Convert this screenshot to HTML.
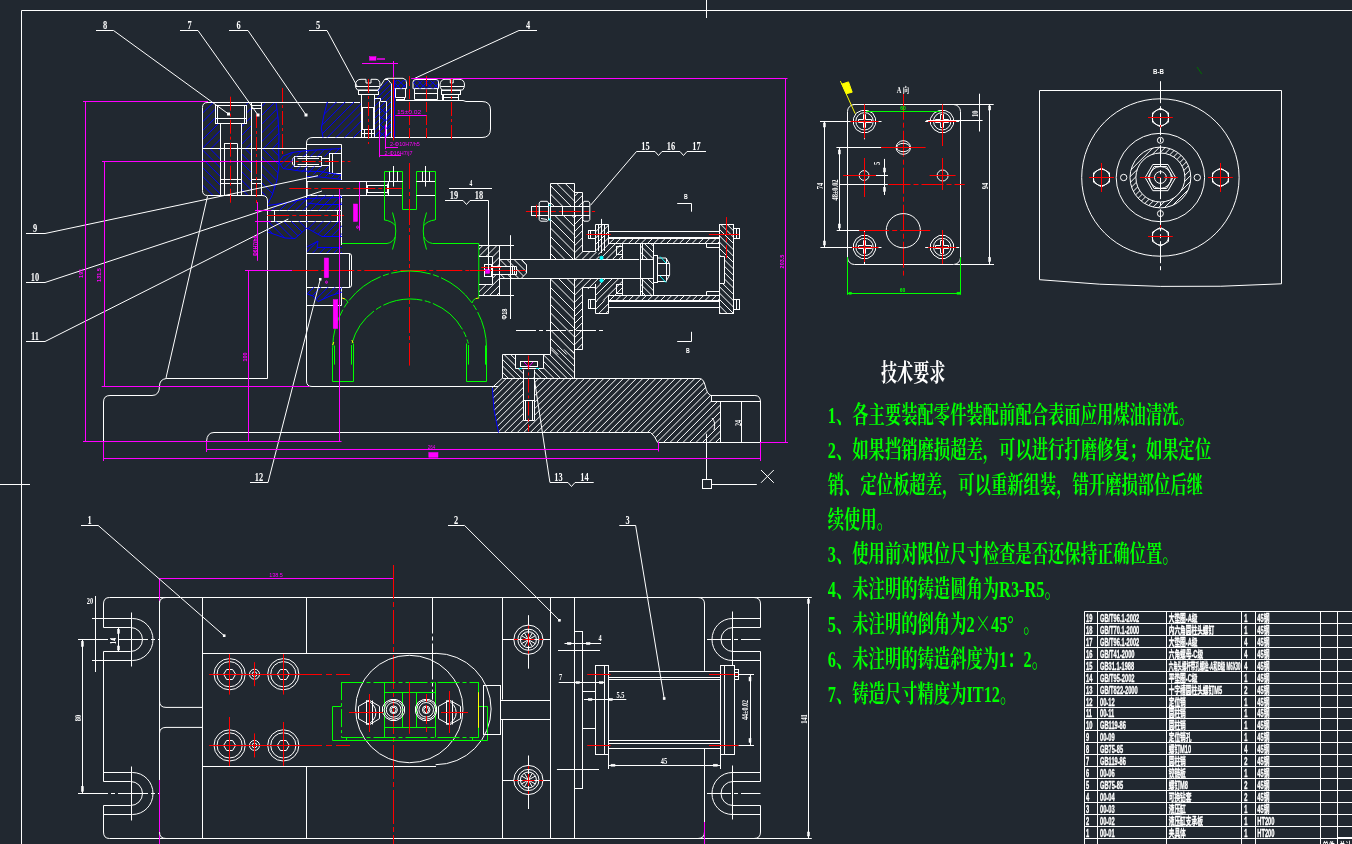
<!DOCTYPE html>
<html><head><meta charset="utf-8"><title>CAD</title>
<style>html,body{margin:0;padding:0;background:#212830;overflow:hidden}svg{display:block;will-change:transform}</style>
</head><body>
<svg width="1352" height="844" viewBox="0 0 1352 844">
<rect x="0" y="0" width="1352" height="844" fill="#212830"/>
<defs>
<clipPath id="h1"><path d="M202.3 107 L207 102.1 L276 102.1 L278 118 L279 135 L278.7 148.4 L202.3 148.4Z M215.3 102.1 L246.3 102.1 L246.3 123.1 L241.2 123.1 L241.2 148.4 L220.7 148.4 L220.7 123.1 L215.3 123.1Z M251.4 102.1 L261.7 102.1 L261.7 148.4 L251.4 148.4Z" clip-rule="evenodd"/></clipPath>
<clipPath id="h2"><path d="M202.3 148.4 L278.7 148.4 L279 165 L277 180 L272 195.6 L207 195.6 L202.3 191Z M220.7 148.4 L241.2 148.4 L241.2 195.6 L220.7 195.6Z M251.4 148.4 L261.7 148.4 L261.7 195.6 L251.4 195.6Z" clip-rule="evenodd"/></clipPath>
<clipPath id="h3"><path d="M279 162 L283 156 L292 152.5 L306.9 150.5 L341.5 148.5 L341.5 153 L329.9 153 L329.9 156.4 L294.9 156.4 L292.5 161.5 L294.9 166.6 L329.9 166.6 L329.9 173.5 L341.5 173.5 L341.5 178.5 L320 176 L300 172 L283 168.5Z" clip-rule="evenodd"/></clipPath>
<clipPath id="h4"><path d="M306.9 195.5 L341.9 195.5 L341.9 210.3 L267.7 210.3 L270 205 L285 203 L300 199Z" clip-rule="evenodd"/></clipPath>
<clipPath id="h5"><path d="M267.7 221.2 L306.9 221.2 L306.9 228 L295 238.5 L285 238 L267.7 232Z" clip-rule="evenodd"/></clipPath>
<clipPath id="h6"><path d="M306.9 221.2 L341.9 221.2 L341.9 236 L322 236 L306.9 228Z" clip-rule="evenodd"/></clipPath>
<clipPath id="h7"><path d="M306.9 245 L318 241 L317 247 L341.9 247 L341.9 253.5 L306.9 253.5Z" clip-rule="evenodd"/></clipPath>
<clipPath id="h8"><path d="M307.3 287.3 L342 287.3 L342 292 L330 296 L318 301.5 L313 296 L307.3 294Z" clip-rule="evenodd"/></clipPath>
<clipPath id="h9"><path d="M327.3 102.1 L361.3 102.1 L361.3 137.6 L323 137.6 L321.3 128 L324 115Z" clip-rule="evenodd"/></clipPath>
<clipPath id="h10"><path d="M374.9 94.6 L378 94.6 L378 90 L380.5 86 L384.5 79.5 L388 79.5 L391 83.5 L391.3 137.6 L374.9 137.6Z" clip-rule="evenodd"/></clipPath>
<clipPath id="h11"><path d="M394.6 80 L406 80 L406 88.6 L394.6 88.6Z" clip-rule="evenodd"/></clipPath>
<clipPath id="h12"><path d="M394.6 80 L406 80 L406 88.6 L394.6 88.6Z" clip-rule="evenodd"/></clipPath>
<clipPath id="h13"><path d="M413.5 80.5 L438 80.5 L438 88.6 L413.5 88.6Z" clip-rule="evenodd"/></clipPath>
<clipPath id="h14"><path d="M413.5 80.5 L438 80.5 L438 88.6 L413.5 88.6Z" clip-rule="evenodd"/></clipPath>
<clipPath id="h15"><path d="M550.3 183.3 L574.8 183.3 L574.8 206.6 L550.3 206.6Z" clip-rule="evenodd"/></clipPath>
<clipPath id="h16"><path d="M550.3 215.9 L574.8 215.9 L574.8 259.2 L550.3 259.2Z" clip-rule="evenodd"/></clipPath>
<clipPath id="h17"><path d="M550.3 278.4 L574.8 278.4 L574.8 354.4 L550.3 354.4Z" clip-rule="evenodd"/></clipPath>
<clipPath id="h18"><path d="M574.8 192.2 L582.9 192.2 L582.9 206.6 L574.8 206.6Z" clip-rule="evenodd"/></clipPath>
<clipPath id="h19"><path d="M574.8 215.9 L582.9 215.9 L582.9 251.9 L597 251.9 L601 259.2 L574.8 259.2Z" clip-rule="evenodd"/></clipPath>
<clipPath id="h20"><path d="M574.8 278.4 L606 278.4 L606 284 L595.1 284 L595.1 313.7 L608.9 313.7 L608.9 300.4 L595.1 300.4 L595.1 289 L582.6 289 L582.6 349.6 L574.8 349.6Z" clip-rule="evenodd"/></clipPath>
<clipPath id="h21"><path d="M479 245.3 L499.4 245.3 L499.4 295.5 L479 295.5 L479 284.7 L492.2 284.7 L492.2 256.7 L479 256.7Z M492.2 266.5 L499.4 266.5 L499.4 274.8 L492.2 274.8Z" clip-rule="evenodd"/></clipPath>
<clipPath id="h22"><path d="M499.4 259.4 L521.5 259.4 L526.8 264.8 L526.8 273 L521.5 278.1 L499.4 278.1Z M499.4 266.5 L516.4 266.5 L516.4 274.8 L499.4 274.8Z" clip-rule="evenodd"/></clipPath>
<clipPath id="h23"><path d="M595.1 224.4 L608.9 224.4 L608.9 243.3 L620 243.3 L622 247 L622 259.2 L601 259.2 L597 251.9 L595.1 251.9Z" clip-rule="evenodd"/></clipPath>
<clipPath id="h24"><path d="M606 278.4 L622 278.4 L622 290 L620 295.6 L608.9 295.6 L608.9 300.4 L595.1 300.4 L595.1 284 L606 284Z" clip-rule="evenodd"/></clipPath>
<clipPath id="h25"><path d="M608.9 238.9 L719.3 238.9 L719.3 243.3 L608.9 243.3Z" clip-rule="evenodd"/></clipPath>
<clipPath id="h26"><path d="M608.9 295.6 L719.3 295.6 L719.3 300.4 L608.9 300.4Z" clip-rule="evenodd"/></clipPath>
<clipPath id="h27"><path d="M719.3 224.4 L733.6 224.4 L733.6 313.7 L719.3 313.7 L719.3 283 L724.5 283 L724.5 256 L719.3 256Z" clip-rule="evenodd"/></clipPath>
<clipPath id="h28"><path d="M640 243.8 L653.6 243.8 L653.6 259.2 L640 259.2Z" clip-rule="evenodd"/></clipPath>
<clipPath id="h29"><path d="M640 278.4 L653.6 278.4 L653.6 295.2 L640 295.2Z" clip-rule="evenodd"/></clipPath>
<clipPath id="h30"><path d="M502.5 378 L699.2 378 L703 379.5 L705.5 386 L707.5 392.5 L711 395.8 L711 401.8 L720.5 401.8 L720.5 442 L657.7 442 L654.5 436 L650.6 432.6 L498.5 432.6 L494 410 L492.3 387.5 L498 383Z M523.4 378 L534 378 L534 420.7 L523.4 420.7Z" clip-rule="evenodd"/></clipPath>
<clipPath id="h31"><path d="M502.5 354.4 L515 354.4 L515 368.6 L543.5 368.6 L543.5 354.4 L550.4 354.4 L550.4 349.6 L574.8 349.6 L574.8 378 L502.5 378Z M523.4 368.6 L534 368.6 L534 378 L523.4 378Z" clip-rule="evenodd"/></clipPath>
<clipPath id="h32"><path d="M1190.8 177.5 L1190.63 180.68 L1190.14 183.82 L1189.31 186.89 L1188.17 189.86 L1186.73 192.7 L1184.99 195.37 L1182.99 197.84 L1180.74 200.09 L1178.27 202.09 L1175.6 203.83 L1172.76 205.27 L1169.79 206.41 L1166.72 207.24 L1163.58 207.73 L1160.4 207.9 L1157.22 207.73 L1154.08 207.24 L1151.01 206.41 L1148.04 205.27 L1145.2 203.83 L1142.53 202.09 L1140.06 200.09 L1137.81 197.84 L1135.81 195.37 L1134.07 192.7 L1132.63 189.86 L1131.49 186.89 L1130.66 183.82 L1130.17 180.68 L1130 177.5 L1130.17 174.32 L1130.66 171.18 L1131.49 168.11 L1132.63 165.14 L1134.07 162.3 L1135.81 159.63 L1137.81 157.16 L1140.06 154.91 L1142.53 152.91 L1145.2 151.17 L1148.04 149.73 L1151.01 148.59 L1154.08 147.76 L1157.22 147.27 L1160.4 147.1 L1163.58 147.27 L1166.72 147.76 L1169.79 148.59 L1172.76 149.73 L1175.6 151.17 L1178.27 152.91 L1180.74 154.91 L1182.99 157.16 L1184.99 159.63 L1186.73 162.3 L1188.17 165.14 L1189.31 168.11 L1190.14 171.18 L1190.63 174.32Z M1184.9 177.5 L1184.77 180.06 L1184.36 182.59 L1183.7 185.07 L1182.78 187.47 L1181.62 189.75 L1180.22 191.9 L1178.61 193.89 L1176.79 195.71 L1174.8 197.32 L1172.65 198.72 L1170.37 199.88 L1167.97 200.8 L1165.49 201.46 L1162.96 201.87 L1160.4 202 L1157.84 201.87 L1155.31 201.46 L1152.83 200.8 L1150.43 199.88 L1148.15 198.72 L1146 197.32 L1144.01 195.71 L1142.19 193.89 L1140.58 191.9 L1139.18 189.75 L1138.02 187.47 L1137.1 185.07 L1136.44 182.59 L1136.03 180.06 L1135.9 177.5 L1136.03 174.94 L1136.44 172.41 L1137.1 169.93 L1138.02 167.53 L1139.18 165.25 L1140.58 163.1 L1142.19 161.11 L1144.01 159.29 L1146 157.68 L1148.15 156.28 L1150.43 155.12 L1152.83 154.2 L1155.31 153.54 L1157.84 153.13 L1160.4 153 L1162.96 153.13 L1165.49 153.54 L1167.97 154.2 L1170.37 155.12 L1172.65 156.28 L1174.8 157.68 L1176.79 159.29 L1178.61 161.11 L1180.22 163.1 L1181.62 165.25 L1182.78 167.53 L1183.7 169.93 L1184.36 172.41 L1184.77 174.94Z" clip-rule="evenodd"/></clipPath>
</defs>
<g fill="none" stroke-linecap="butt">
<text transform="translate(881 381) scale(0.67 1)" font-size="24" fill="#ffffff" text-anchor="start" font-weight="bold" font-family='"Liberation Serif", "Noto Serif CJK SC", serif'>技术要求</text>
<text transform="translate(827.8 423.2) scale(0.68 1)" font-size="24" fill="#00ff00" text-anchor="start" font-weight="bold" font-family='"Liberation Serif", "Noto Serif CJK SC", serif'>1、各主要装配零件装配前配合表面应用煤油清洗。</text>
<text transform="translate(827.8 458) scale(0.68 1)" font-size="24" fill="#00ff00" text-anchor="start" font-weight="bold" font-family='"Liberation Serif", "Noto Serif CJK SC", serif'>2、如果挡销磨损超差，可以进行打磨修复；如果定位</text>
<text transform="translate(827.8 492.8) scale(0.68 1)" font-size="24" fill="#00ff00" text-anchor="start" font-weight="bold" font-family='"Liberation Serif", "Noto Serif CJK SC", serif'>销、定位板超差，可以重新组装，错开磨损部位后继</text>
<text transform="translate(827.8 527.6) scale(0.68 1)" font-size="24" fill="#00ff00" text-anchor="start" font-weight="bold" font-family='"Liberation Serif", "Noto Serif CJK SC", serif'>续使用。</text>
<text transform="translate(827.8 562.4) scale(0.68 1)" font-size="24" fill="#00ff00" text-anchor="start" font-weight="bold" font-family='"Liberation Serif", "Noto Serif CJK SC", serif'>3、使用前对限位尺寸检查是否还保持正确位置。</text>
<text transform="translate(827.8 597.2) scale(0.68 1)" font-size="24" fill="#00ff00" text-anchor="start" font-weight="bold" font-family='"Liberation Serif", "Noto Serif CJK SC", serif'>4、未注明的铸造圆角为R3-R5。</text>
<text transform="translate(827.8 632) scale(0.68 1)" font-size="24" fill="#00ff00" text-anchor="start" font-weight="bold" font-family='"Liberation Serif", "Noto Serif CJK SC", serif'>5、未注明的倒角为2<tspan font-family="Noto Serif CJK SC">×</tspan>45°<tspan dx="14">。</tspan></text>
<text transform="translate(827.8 666.8) scale(0.68 1)" font-size="24" fill="#00ff00" text-anchor="start" font-weight="bold" font-family='"Liberation Serif", "Noto Serif CJK SC", serif'>6、未注明的铸造斜度为1：2。</text>
<text transform="translate(827.8 701.6) scale(0.68 1)" font-size="24" fill="#00ff00" text-anchor="start" font-weight="bold" font-family='"Liberation Serif", "Noto Serif CJK SC", serif'>7、铸造尺寸精度为IT12。</text>
<line x1="1084.5" y1="611.4" x2="1084.5" y2="844" stroke="#ffffff" stroke-width="1"/>
<line x1="1097.5" y1="611.4" x2="1097.5" y2="844" stroke="#ffffff" stroke-width="1"/>
<line x1="1166.5" y1="611.4" x2="1166.5" y2="844" stroke="#ffffff" stroke-width="1"/>
<line x1="1241.5" y1="611.4" x2="1241.5" y2="844" stroke="#ffffff" stroke-width="1"/>
<line x1="1255.5" y1="611.4" x2="1255.5" y2="844" stroke="#ffffff" stroke-width="1"/>
<line x1="1320.5" y1="611.4" x2="1320.5" y2="844" stroke="#ffffff" stroke-width="1"/>
<line x1="1337.5" y1="611.4" x2="1337.5" y2="844" stroke="#ffffff" stroke-width="1"/>
<line x1="1084.4" y1="611.5" x2="1352" y2="611.5" stroke="#ffffff" stroke-width="1"/>
<line x1="1084.4" y1="623.5" x2="1352" y2="623.5" stroke="#ffffff" stroke-width="1"/>
<line x1="1084.4" y1="635.5" x2="1352" y2="635.5" stroke="#ffffff" stroke-width="1"/>
<line x1="1084.4" y1="647.5" x2="1352" y2="647.5" stroke="#ffffff" stroke-width="1"/>
<line x1="1084.4" y1="659.5" x2="1352" y2="659.5" stroke="#ffffff" stroke-width="1"/>
<line x1="1084.4" y1="671.5" x2="1352" y2="671.5" stroke="#ffffff" stroke-width="1"/>
<line x1="1084.4" y1="683.5" x2="1352" y2="683.5" stroke="#ffffff" stroke-width="1"/>
<line x1="1084.4" y1="695.5" x2="1352" y2="695.5" stroke="#ffffff" stroke-width="1"/>
<line x1="1084.4" y1="707.5" x2="1352" y2="707.5" stroke="#ffffff" stroke-width="1"/>
<line x1="1084.4" y1="718.5" x2="1352" y2="718.5" stroke="#ffffff" stroke-width="1"/>
<line x1="1084.4" y1="730.5" x2="1352" y2="730.5" stroke="#ffffff" stroke-width="1"/>
<line x1="1084.4" y1="742.5" x2="1352" y2="742.5" stroke="#ffffff" stroke-width="1"/>
<line x1="1084.4" y1="754.5" x2="1352" y2="754.5" stroke="#ffffff" stroke-width="1"/>
<line x1="1084.4" y1="766.5" x2="1352" y2="766.5" stroke="#ffffff" stroke-width="1"/>
<line x1="1084.4" y1="778.5" x2="1352" y2="778.5" stroke="#ffffff" stroke-width="1"/>
<line x1="1084.4" y1="790.5" x2="1352" y2="790.5" stroke="#ffffff" stroke-width="1"/>
<line x1="1084.4" y1="802.5" x2="1352" y2="802.5" stroke="#ffffff" stroke-width="1"/>
<line x1="1084.4" y1="814.5" x2="1352" y2="814.5" stroke="#ffffff" stroke-width="1"/>
<line x1="1084.4" y1="826.5" x2="1352" y2="826.5" stroke="#ffffff" stroke-width="1"/>
<line x1="1084.4" y1="838.5" x2="1352" y2="838.5" stroke="#ffffff" stroke-width="1"/>
<text transform="translate(1086 621.7) scale(0.57 1)" font-size="10" fill="#ffffff" text-anchor="start" font-weight="bold" font-family='"Liberation Sans", "Noto Sans CJK SC", sans-serif' stroke="#ffffff" stroke-width="0.4">19</text>
<text transform="translate(1100 621.7) scale(0.57 1)" font-size="10" fill="#ffffff" text-anchor="start" font-weight="bold" font-family='"Liberation Sans", "Noto Sans CJK SC", sans-serif' stroke="#ffffff" stroke-width="0.4">GB/T96.1-2002</text>
<text transform="translate(1168.7 621.7) scale(0.57 1)" font-size="10" fill="#ffffff" text-anchor="start" font-weight="bold" font-family='"Liberation Sans", "Noto Sans CJK SC", sans-serif' stroke="#ffffff" stroke-width="0.4">大垫圈-A级</text>
<text transform="translate(1244.2 621.7) scale(0.57 1)" font-size="10" fill="#ffffff" text-anchor="start" font-weight="bold" font-family='"Liberation Sans", "Noto Sans CJK SC", sans-serif' stroke="#ffffff" stroke-width="0.4">1</text>
<text transform="translate(1257.3 621.7) scale(0.57 1)" font-size="10" fill="#ffffff" text-anchor="start" font-weight="bold" font-family='"Liberation Sans", "Noto Sans CJK SC", sans-serif' stroke="#ffffff" stroke-width="0.4">45钢</text>
<text transform="translate(1086 633.7) scale(0.57 1)" font-size="10" fill="#ffffff" text-anchor="start" font-weight="bold" font-family='"Liberation Sans", "Noto Sans CJK SC", sans-serif' stroke="#ffffff" stroke-width="0.4">18</text>
<text transform="translate(1100 633.7) scale(0.57 1)" font-size="10" fill="#ffffff" text-anchor="start" font-weight="bold" font-family='"Liberation Sans", "Noto Sans CJK SC", sans-serif' stroke="#ffffff" stroke-width="0.4">GB/T70.1-2000</text>
<text transform="translate(1168.7 633.7) scale(0.57 1)" font-size="10" fill="#ffffff" text-anchor="start" font-weight="bold" font-family='"Liberation Sans", "Noto Sans CJK SC", sans-serif' stroke="#ffffff" stroke-width="0.4">内六角圆柱头螺钉</text>
<text transform="translate(1244.2 633.7) scale(0.57 1)" font-size="10" fill="#ffffff" text-anchor="start" font-weight="bold" font-family='"Liberation Sans", "Noto Sans CJK SC", sans-serif' stroke="#ffffff" stroke-width="0.4">1</text>
<text transform="translate(1257.3 633.7) scale(0.57 1)" font-size="10" fill="#ffffff" text-anchor="start" font-weight="bold" font-family='"Liberation Sans", "Noto Sans CJK SC", sans-serif' stroke="#ffffff" stroke-width="0.4">45钢</text>
<text transform="translate(1086 645.7) scale(0.57 1)" font-size="10" fill="#ffffff" text-anchor="start" font-weight="bold" font-family='"Liberation Sans", "Noto Sans CJK SC", sans-serif' stroke="#ffffff" stroke-width="0.4">17</text>
<text transform="translate(1100 645.7) scale(0.57 1)" font-size="10" fill="#ffffff" text-anchor="start" font-weight="bold" font-family='"Liberation Sans", "Noto Sans CJK SC", sans-serif' stroke="#ffffff" stroke-width="0.4">GB/T96.1-2002</text>
<text transform="translate(1168.7 645.7) scale(0.57 1)" font-size="10" fill="#ffffff" text-anchor="start" font-weight="bold" font-family='"Liberation Sans", "Noto Sans CJK SC", sans-serif' stroke="#ffffff" stroke-width="0.4">大垫圈-A级</text>
<text transform="translate(1244.2 645.7) scale(0.57 1)" font-size="10" fill="#ffffff" text-anchor="start" font-weight="bold" font-family='"Liberation Sans", "Noto Sans CJK SC", sans-serif' stroke="#ffffff" stroke-width="0.4">4</text>
<text transform="translate(1257.3 645.7) scale(0.57 1)" font-size="10" fill="#ffffff" text-anchor="start" font-weight="bold" font-family='"Liberation Sans", "Noto Sans CJK SC", sans-serif' stroke="#ffffff" stroke-width="0.4">45钢</text>
<text transform="translate(1086 657.7) scale(0.57 1)" font-size="10" fill="#ffffff" text-anchor="start" font-weight="bold" font-family='"Liberation Sans", "Noto Sans CJK SC", sans-serif' stroke="#ffffff" stroke-width="0.4">16</text>
<text transform="translate(1100 657.7) scale(0.57 1)" font-size="10" fill="#ffffff" text-anchor="start" font-weight="bold" font-family='"Liberation Sans", "Noto Sans CJK SC", sans-serif' stroke="#ffffff" stroke-width="0.4">GB/T41-2000</text>
<text transform="translate(1168.7 657.7) scale(0.57 1)" font-size="10" fill="#ffffff" text-anchor="start" font-weight="bold" font-family='"Liberation Sans", "Noto Sans CJK SC", sans-serif' stroke="#ffffff" stroke-width="0.4">六角螺母-C级</text>
<text transform="translate(1244.2 657.7) scale(0.57 1)" font-size="10" fill="#ffffff" text-anchor="start" font-weight="bold" font-family='"Liberation Sans", "Noto Sans CJK SC", sans-serif' stroke="#ffffff" stroke-width="0.4">4</text>
<text transform="translate(1257.3 657.7) scale(0.57 1)" font-size="10" fill="#ffffff" text-anchor="start" font-weight="bold" font-family='"Liberation Sans", "Noto Sans CJK SC", sans-serif' stroke="#ffffff" stroke-width="0.4">45钢</text>
<text transform="translate(1086 669.7) scale(0.57 1)" font-size="10" fill="#ffffff" text-anchor="start" font-weight="bold" font-family='"Liberation Sans", "Noto Sans CJK SC", sans-serif' stroke="#ffffff" stroke-width="0.4">15</text>
<text transform="translate(1100 669.7) scale(0.57 1)" font-size="10" fill="#ffffff" text-anchor="start" font-weight="bold" font-family='"Liberation Sans", "Noto Sans CJK SC", sans-serif' stroke="#ffffff" stroke-width="0.4">GB31.1-1988</text>
<text transform="translate(1168.7 669.7) scale(0.57 1)" font-size="10" fill="#ffffff" text-anchor="start" font-weight="bold" font-family='"Liberation Sans", "Noto Sans CJK SC", sans-serif' stroke="#ffffff" stroke-width="0.4" textLength="126" lengthAdjust="spacingAndGlyphs">六角头螺杆带孔螺栓-A和B级 M6X30</text>
<text transform="translate(1244.2 669.7) scale(0.57 1)" font-size="10" fill="#ffffff" text-anchor="start" font-weight="bold" font-family='"Liberation Sans", "Noto Sans CJK SC", sans-serif' stroke="#ffffff" stroke-width="0.4">4</text>
<text transform="translate(1257.3 669.7) scale(0.57 1)" font-size="10" fill="#ffffff" text-anchor="start" font-weight="bold" font-family='"Liberation Sans", "Noto Sans CJK SC", sans-serif' stroke="#ffffff" stroke-width="0.4">45钢</text>
<text transform="translate(1086 681.7) scale(0.57 1)" font-size="10" fill="#ffffff" text-anchor="start" font-weight="bold" font-family='"Liberation Sans", "Noto Sans CJK SC", sans-serif' stroke="#ffffff" stroke-width="0.4">14</text>
<text transform="translate(1100 681.7) scale(0.57 1)" font-size="10" fill="#ffffff" text-anchor="start" font-weight="bold" font-family='"Liberation Sans", "Noto Sans CJK SC", sans-serif' stroke="#ffffff" stroke-width="0.4">GB/T95-2002</text>
<text transform="translate(1168.7 681.7) scale(0.57 1)" font-size="10" fill="#ffffff" text-anchor="start" font-weight="bold" font-family='"Liberation Sans", "Noto Sans CJK SC", sans-serif' stroke="#ffffff" stroke-width="0.4">平垫圈-C级</text>
<text transform="translate(1244.2 681.7) scale(0.57 1)" font-size="10" fill="#ffffff" text-anchor="start" font-weight="bold" font-family='"Liberation Sans", "Noto Sans CJK SC", sans-serif' stroke="#ffffff" stroke-width="0.4">1</text>
<text transform="translate(1257.3 681.7) scale(0.57 1)" font-size="10" fill="#ffffff" text-anchor="start" font-weight="bold" font-family='"Liberation Sans", "Noto Sans CJK SC", sans-serif' stroke="#ffffff" stroke-width="0.4">45钢</text>
<text transform="translate(1086 693.7) scale(0.57 1)" font-size="10" fill="#ffffff" text-anchor="start" font-weight="bold" font-family='"Liberation Sans", "Noto Sans CJK SC", sans-serif' stroke="#ffffff" stroke-width="0.4">13</text>
<text transform="translate(1100 693.7) scale(0.57 1)" font-size="10" fill="#ffffff" text-anchor="start" font-weight="bold" font-family='"Liberation Sans", "Noto Sans CJK SC", sans-serif' stroke="#ffffff" stroke-width="0.4">GB/T822-2000</text>
<text transform="translate(1168.7 693.7) scale(0.57 1)" font-size="10" fill="#ffffff" text-anchor="start" font-weight="bold" font-family='"Liberation Sans", "Noto Sans CJK SC", sans-serif' stroke="#ffffff" stroke-width="0.4">十字槽圆柱头螺钉M5</text>
<text transform="translate(1244.2 693.7) scale(0.57 1)" font-size="10" fill="#ffffff" text-anchor="start" font-weight="bold" font-family='"Liberation Sans", "Noto Sans CJK SC", sans-serif' stroke="#ffffff" stroke-width="0.4">2</text>
<text transform="translate(1257.3 693.7) scale(0.57 1)" font-size="10" fill="#ffffff" text-anchor="start" font-weight="bold" font-family='"Liberation Sans", "Noto Sans CJK SC", sans-serif' stroke="#ffffff" stroke-width="0.4">45钢</text>
<text transform="translate(1086 705.7) scale(0.57 1)" font-size="10" fill="#ffffff" text-anchor="start" font-weight="bold" font-family='"Liberation Sans", "Noto Sans CJK SC", sans-serif' stroke="#ffffff" stroke-width="0.4">12</text>
<text transform="translate(1100 705.7) scale(0.57 1)" font-size="10" fill="#ffffff" text-anchor="start" font-weight="bold" font-family='"Liberation Sans", "Noto Sans CJK SC", sans-serif' stroke="#ffffff" stroke-width="0.4">00-12</text>
<text transform="translate(1168.7 705.7) scale(0.57 1)" font-size="10" fill="#ffffff" text-anchor="start" font-weight="bold" font-family='"Liberation Sans", "Noto Sans CJK SC", sans-serif' stroke="#ffffff" stroke-width="0.4">定位销</text>
<text transform="translate(1244.2 705.7) scale(0.57 1)" font-size="10" fill="#ffffff" text-anchor="start" font-weight="bold" font-family='"Liberation Sans", "Noto Sans CJK SC", sans-serif' stroke="#ffffff" stroke-width="0.4">1</text>
<text transform="translate(1257.3 705.7) scale(0.57 1)" font-size="10" fill="#ffffff" text-anchor="start" font-weight="bold" font-family='"Liberation Sans", "Noto Sans CJK SC", sans-serif' stroke="#ffffff" stroke-width="0.4">45钢</text>
<text transform="translate(1086 717.2) scale(0.57 1)" font-size="10" fill="#ffffff" text-anchor="start" font-weight="bold" font-family='"Liberation Sans", "Noto Sans CJK SC", sans-serif' stroke="#ffffff" stroke-width="0.4">11</text>
<text transform="translate(1100 717.2) scale(0.57 1)" font-size="10" fill="#ffffff" text-anchor="start" font-weight="bold" font-family='"Liberation Sans", "Noto Sans CJK SC", sans-serif' stroke="#ffffff" stroke-width="0.4">00-11</text>
<text transform="translate(1168.7 717.2) scale(0.57 1)" font-size="10" fill="#ffffff" text-anchor="start" font-weight="bold" font-family='"Liberation Sans", "Noto Sans CJK SC", sans-serif' stroke="#ffffff" stroke-width="0.4">圆柱销</text>
<text transform="translate(1244.2 717.2) scale(0.57 1)" font-size="10" fill="#ffffff" text-anchor="start" font-weight="bold" font-family='"Liberation Sans", "Noto Sans CJK SC", sans-serif' stroke="#ffffff" stroke-width="0.4">1</text>
<text transform="translate(1257.3 717.2) scale(0.57 1)" font-size="10" fill="#ffffff" text-anchor="start" font-weight="bold" font-family='"Liberation Sans", "Noto Sans CJK SC", sans-serif' stroke="#ffffff" stroke-width="0.4">45钢</text>
<text transform="translate(1086 728.7) scale(0.57 1)" font-size="10" fill="#ffffff" text-anchor="start" font-weight="bold" font-family='"Liberation Sans", "Noto Sans CJK SC", sans-serif' stroke="#ffffff" stroke-width="0.4">10</text>
<text transform="translate(1100 728.7) scale(0.57 1)" font-size="10" fill="#ffffff" text-anchor="start" font-weight="bold" font-family='"Liberation Sans", "Noto Sans CJK SC", sans-serif' stroke="#ffffff" stroke-width="0.4">GB119-86</text>
<text transform="translate(1168.7 728.7) scale(0.57 1)" font-size="10" fill="#ffffff" text-anchor="start" font-weight="bold" font-family='"Liberation Sans", "Noto Sans CJK SC", sans-serif' stroke="#ffffff" stroke-width="0.4">圆柱销</text>
<text transform="translate(1244.2 728.7) scale(0.57 1)" font-size="10" fill="#ffffff" text-anchor="start" font-weight="bold" font-family='"Liberation Sans", "Noto Sans CJK SC", sans-serif' stroke="#ffffff" stroke-width="0.4">1</text>
<text transform="translate(1257.3 728.7) scale(0.57 1)" font-size="10" fill="#ffffff" text-anchor="start" font-weight="bold" font-family='"Liberation Sans", "Noto Sans CJK SC", sans-serif' stroke="#ffffff" stroke-width="0.4">45钢</text>
<text transform="translate(1086 740.7) scale(0.57 1)" font-size="10" fill="#ffffff" text-anchor="start" font-weight="bold" font-family='"Liberation Sans", "Noto Sans CJK SC", sans-serif' stroke="#ffffff" stroke-width="0.4">9</text>
<text transform="translate(1100 740.7) scale(0.57 1)" font-size="10" fill="#ffffff" text-anchor="start" font-weight="bold" font-family='"Liberation Sans", "Noto Sans CJK SC", sans-serif' stroke="#ffffff" stroke-width="0.4">00-09</text>
<text transform="translate(1168.7 740.7) scale(0.57 1)" font-size="10" fill="#ffffff" text-anchor="start" font-weight="bold" font-family='"Liberation Sans", "Noto Sans CJK SC", sans-serif' stroke="#ffffff" stroke-width="0.4">定位销孔</text>
<text transform="translate(1244.2 740.7) scale(0.57 1)" font-size="10" fill="#ffffff" text-anchor="start" font-weight="bold" font-family='"Liberation Sans", "Noto Sans CJK SC", sans-serif' stroke="#ffffff" stroke-width="0.4">1</text>
<text transform="translate(1257.3 740.7) scale(0.57 1)" font-size="10" fill="#ffffff" text-anchor="start" font-weight="bold" font-family='"Liberation Sans", "Noto Sans CJK SC", sans-serif' stroke="#ffffff" stroke-width="0.4">45钢</text>
<text transform="translate(1086 752.7) scale(0.57 1)" font-size="10" fill="#ffffff" text-anchor="start" font-weight="bold" font-family='"Liberation Sans", "Noto Sans CJK SC", sans-serif' stroke="#ffffff" stroke-width="0.4">8</text>
<text transform="translate(1100 752.7) scale(0.57 1)" font-size="10" fill="#ffffff" text-anchor="start" font-weight="bold" font-family='"Liberation Sans", "Noto Sans CJK SC", sans-serif' stroke="#ffffff" stroke-width="0.4">GB75-85</text>
<text transform="translate(1168.7 752.7) scale(0.57 1)" font-size="10" fill="#ffffff" text-anchor="start" font-weight="bold" font-family='"Liberation Sans", "Noto Sans CJK SC", sans-serif' stroke="#ffffff" stroke-width="0.4">螺钉M10</text>
<text transform="translate(1244.2 752.7) scale(0.57 1)" font-size="10" fill="#ffffff" text-anchor="start" font-weight="bold" font-family='"Liberation Sans", "Noto Sans CJK SC", sans-serif' stroke="#ffffff" stroke-width="0.4">4</text>
<text transform="translate(1257.3 752.7) scale(0.57 1)" font-size="10" fill="#ffffff" text-anchor="start" font-weight="bold" font-family='"Liberation Sans", "Noto Sans CJK SC", sans-serif' stroke="#ffffff" stroke-width="0.4">45钢</text>
<text transform="translate(1086 764.7) scale(0.57 1)" font-size="10" fill="#ffffff" text-anchor="start" font-weight="bold" font-family='"Liberation Sans", "Noto Sans CJK SC", sans-serif' stroke="#ffffff" stroke-width="0.4">7</text>
<text transform="translate(1100 764.7) scale(0.57 1)" font-size="10" fill="#ffffff" text-anchor="start" font-weight="bold" font-family='"Liberation Sans", "Noto Sans CJK SC", sans-serif' stroke="#ffffff" stroke-width="0.4">GB119-86</text>
<text transform="translate(1168.7 764.7) scale(0.57 1)" font-size="10" fill="#ffffff" text-anchor="start" font-weight="bold" font-family='"Liberation Sans", "Noto Sans CJK SC", sans-serif' stroke="#ffffff" stroke-width="0.4">圆柱销</text>
<text transform="translate(1244.2 764.7) scale(0.57 1)" font-size="10" fill="#ffffff" text-anchor="start" font-weight="bold" font-family='"Liberation Sans", "Noto Sans CJK SC", sans-serif' stroke="#ffffff" stroke-width="0.4">2</text>
<text transform="translate(1257.3 764.7) scale(0.57 1)" font-size="10" fill="#ffffff" text-anchor="start" font-weight="bold" font-family='"Liberation Sans", "Noto Sans CJK SC", sans-serif' stroke="#ffffff" stroke-width="0.4">45钢</text>
<text transform="translate(1086 776.7) scale(0.57 1)" font-size="10" fill="#ffffff" text-anchor="start" font-weight="bold" font-family='"Liberation Sans", "Noto Sans CJK SC", sans-serif' stroke="#ffffff" stroke-width="0.4">6</text>
<text transform="translate(1100 776.7) scale(0.57 1)" font-size="10" fill="#ffffff" text-anchor="start" font-weight="bold" font-family='"Liberation Sans", "Noto Sans CJK SC", sans-serif' stroke="#ffffff" stroke-width="0.4">00-06</text>
<text transform="translate(1168.7 776.7) scale(0.57 1)" font-size="10" fill="#ffffff" text-anchor="start" font-weight="bold" font-family='"Liberation Sans", "Noto Sans CJK SC", sans-serif' stroke="#ffffff" stroke-width="0.4">铰链板</text>
<text transform="translate(1244.2 776.7) scale(0.57 1)" font-size="10" fill="#ffffff" text-anchor="start" font-weight="bold" font-family='"Liberation Sans", "Noto Sans CJK SC", sans-serif' stroke="#ffffff" stroke-width="0.4">1</text>
<text transform="translate(1257.3 776.7) scale(0.57 1)" font-size="10" fill="#ffffff" text-anchor="start" font-weight="bold" font-family='"Liberation Sans", "Noto Sans CJK SC", sans-serif' stroke="#ffffff" stroke-width="0.4">45钢</text>
<text transform="translate(1086 788.7) scale(0.57 1)" font-size="10" fill="#ffffff" text-anchor="start" font-weight="bold" font-family='"Liberation Sans", "Noto Sans CJK SC", sans-serif' stroke="#ffffff" stroke-width="0.4">5</text>
<text transform="translate(1100 788.7) scale(0.57 1)" font-size="10" fill="#ffffff" text-anchor="start" font-weight="bold" font-family='"Liberation Sans", "Noto Sans CJK SC", sans-serif' stroke="#ffffff" stroke-width="0.4">GB75-85</text>
<text transform="translate(1168.7 788.7) scale(0.57 1)" font-size="10" fill="#ffffff" text-anchor="start" font-weight="bold" font-family='"Liberation Sans", "Noto Sans CJK SC", sans-serif' stroke="#ffffff" stroke-width="0.4">螺钉M8</text>
<text transform="translate(1244.2 788.7) scale(0.57 1)" font-size="10" fill="#ffffff" text-anchor="start" font-weight="bold" font-family='"Liberation Sans", "Noto Sans CJK SC", sans-serif' stroke="#ffffff" stroke-width="0.4">2</text>
<text transform="translate(1257.3 788.7) scale(0.57 1)" font-size="10" fill="#ffffff" text-anchor="start" font-weight="bold" font-family='"Liberation Sans", "Noto Sans CJK SC", sans-serif' stroke="#ffffff" stroke-width="0.4">45钢</text>
<text transform="translate(1086 800.7) scale(0.57 1)" font-size="10" fill="#ffffff" text-anchor="start" font-weight="bold" font-family='"Liberation Sans", "Noto Sans CJK SC", sans-serif' stroke="#ffffff" stroke-width="0.4">4</text>
<text transform="translate(1100 800.7) scale(0.57 1)" font-size="10" fill="#ffffff" text-anchor="start" font-weight="bold" font-family='"Liberation Sans", "Noto Sans CJK SC", sans-serif' stroke="#ffffff" stroke-width="0.4">00-04</text>
<text transform="translate(1168.7 800.7) scale(0.57 1)" font-size="10" fill="#ffffff" text-anchor="start" font-weight="bold" font-family='"Liberation Sans", "Noto Sans CJK SC", sans-serif' stroke="#ffffff" stroke-width="0.4">可换钻套</text>
<text transform="translate(1244.2 800.7) scale(0.57 1)" font-size="10" fill="#ffffff" text-anchor="start" font-weight="bold" font-family='"Liberation Sans", "Noto Sans CJK SC", sans-serif' stroke="#ffffff" stroke-width="0.4">2</text>
<text transform="translate(1257.3 800.7) scale(0.57 1)" font-size="10" fill="#ffffff" text-anchor="start" font-weight="bold" font-family='"Liberation Sans", "Noto Sans CJK SC", sans-serif' stroke="#ffffff" stroke-width="0.4">45钢</text>
<text transform="translate(1086 812.7) scale(0.57 1)" font-size="10" fill="#ffffff" text-anchor="start" font-weight="bold" font-family='"Liberation Sans", "Noto Sans CJK SC", sans-serif' stroke="#ffffff" stroke-width="0.4">3</text>
<text transform="translate(1100 812.7) scale(0.57 1)" font-size="10" fill="#ffffff" text-anchor="start" font-weight="bold" font-family='"Liberation Sans", "Noto Sans CJK SC", sans-serif' stroke="#ffffff" stroke-width="0.4">00-03</text>
<text transform="translate(1168.7 812.7) scale(0.57 1)" font-size="10" fill="#ffffff" text-anchor="start" font-weight="bold" font-family='"Liberation Sans", "Noto Sans CJK SC", sans-serif' stroke="#ffffff" stroke-width="0.4">液压缸</text>
<text transform="translate(1244.2 812.7) scale(0.57 1)" font-size="10" fill="#ffffff" text-anchor="start" font-weight="bold" font-family='"Liberation Sans", "Noto Sans CJK SC", sans-serif' stroke="#ffffff" stroke-width="0.4">1</text>
<text transform="translate(1257.3 812.7) scale(0.57 1)" font-size="10" fill="#ffffff" text-anchor="start" font-weight="bold" font-family='"Liberation Sans", "Noto Sans CJK SC", sans-serif' stroke="#ffffff" stroke-width="0.4">45钢</text>
<text transform="translate(1086 824.7) scale(0.57 1)" font-size="10" fill="#ffffff" text-anchor="start" font-weight="bold" font-family='"Liberation Sans", "Noto Sans CJK SC", sans-serif' stroke="#ffffff" stroke-width="0.4">2</text>
<text transform="translate(1100 824.7) scale(0.57 1)" font-size="10" fill="#ffffff" text-anchor="start" font-weight="bold" font-family='"Liberation Sans", "Noto Sans CJK SC", sans-serif' stroke="#ffffff" stroke-width="0.4">00-02</text>
<text transform="translate(1168.7 824.7) scale(0.57 1)" font-size="10" fill="#ffffff" text-anchor="start" font-weight="bold" font-family='"Liberation Sans", "Noto Sans CJK SC", sans-serif' stroke="#ffffff" stroke-width="0.4">液压缸支承板</text>
<text transform="translate(1244.2 824.7) scale(0.57 1)" font-size="10" fill="#ffffff" text-anchor="start" font-weight="bold" font-family='"Liberation Sans", "Noto Sans CJK SC", sans-serif' stroke="#ffffff" stroke-width="0.4">1</text>
<text transform="translate(1257.3 824.7) scale(0.57 1)" font-size="10" fill="#ffffff" text-anchor="start" font-weight="bold" font-family='"Liberation Sans", "Noto Sans CJK SC", sans-serif' stroke="#ffffff" stroke-width="0.4">HT200</text>
<text transform="translate(1086 836.7) scale(0.57 1)" font-size="10" fill="#ffffff" text-anchor="start" font-weight="bold" font-family='"Liberation Sans", "Noto Sans CJK SC", sans-serif' stroke="#ffffff" stroke-width="0.4">1</text>
<text transform="translate(1100 836.7) scale(0.57 1)" font-size="10" fill="#ffffff" text-anchor="start" font-weight="bold" font-family='"Liberation Sans", "Noto Sans CJK SC", sans-serif' stroke="#ffffff" stroke-width="0.4">00-01</text>
<text transform="translate(1168.7 836.7) scale(0.57 1)" font-size="10" fill="#ffffff" text-anchor="start" font-weight="bold" font-family='"Liberation Sans", "Noto Sans CJK SC", sans-serif' stroke="#ffffff" stroke-width="0.4">夹具体</text>
<text transform="translate(1244.2 836.7) scale(0.57 1)" font-size="10" fill="#ffffff" text-anchor="start" font-weight="bold" font-family='"Liberation Sans", "Noto Sans CJK SC", sans-serif' stroke="#ffffff" stroke-width="0.4">1</text>
<text transform="translate(1257.3 836.7) scale(0.57 1)" font-size="10" fill="#ffffff" text-anchor="start" font-weight="bold" font-family='"Liberation Sans", "Noto Sans CJK SC", sans-serif' stroke="#ffffff" stroke-width="0.4">HT200</text>
<text transform="translate(1322.6 849.3) scale(0.68 1)" font-size="9" fill="#ffffff" text-anchor="start" font-weight="bold" font-family='"Liberation Sans", "Noto Sans CJK SC", sans-serif'>单件</text>
<text transform="translate(1339.3 849.3) scale(0.68 1)" font-size="9" fill="#ffffff" text-anchor="start" font-weight="bold" font-family='"Liberation Sans", "Noto Sans CJK SC", sans-serif'>总计</text>
<line x1="1338" y1="837.5" x2="1352" y2="837.5" stroke="#ffffff" stroke-width="1"/>
<path clip-path="url(#h1)" d="M173.67 124.45 L239.85 58.27 M178.05 128.83 L244.23 62.65 M182.44 133.22 L248.62 67.04 M186.82 137.6 L253 71.42 M191.2 141.98 L257.38 75.8 M195.59 146.37 L261.77 80.19 M199.97 150.75 L266.15 84.57 M204.36 155.14 L270.54 88.96 M208.74 159.52 L274.92 93.34 M213.13 163.9 L279.3 97.73 M217.51 168.29 L283.69 102.11 M221.89 172.67 L288.07 106.49 M226.28 177.06 L292.46 110.88 M230.66 181.44 L296.84 115.26 M235.05 185.82 L301.22 119.65 M239.43 190.21 L305.61 124.03 M243.81 194.59 L309.99 128.41" stroke="#0000ff" stroke-width="1" fill="none"/>
<path clip-path="url(#h2)" d="M243.21 102.92 L309.73 169.44 M238.83 107.31 L305.34 173.82 M234.45 111.69 L300.96 178.2 M230.06 116.08 L296.57 182.59 M225.68 120.46 L292.19 186.97 M221.29 124.85 L287.8 191.36 M216.91 129.23 L283.42 195.74 M212.53 133.61 L279.04 200.12 M208.14 138 L274.65 204.51 M203.76 142.38 L270.27 208.89 M199.37 146.77 L265.88 213.28 M194.99 151.15 L261.5 217.66 M190.61 155.53 L257.12 222.04 M186.22 159.92 L252.73 226.43 M181.84 164.3 L248.35 230.81 M177.45 168.69 L243.96 235.2 M173.07 173.07 L239.58 239.58" stroke="#0000ff" stroke-width="1" fill="none"/>
<path d="M207.5 102.5 Q202.5 102.5 202.5 107.5 L202.5 190.5 Q202.5 195.5 207.5 195.5 L262 195.5" stroke="#ffffff" stroke-width="1" fill="none"/>
<polyline points="276,102.1 278,118 279,135 278.7,150 279,165 277,180 272,195.6 268,203" stroke="#0000ff" stroke-width="1" fill="none"/>
<line x1="202.3" y1="148.5" x2="306.9" y2="148.5" stroke="#ffffff" stroke-width="1"/>
<line x1="207" y1="102.5" x2="360" y2="102.5" stroke="#ffffff" stroke-width="1"/>
<rect x="215.5" y="105.5" width="31" height="18" rx="0" stroke="#ffffff" stroke-width="1" fill="none"/>
<line x1="217.5" y1="105.2" x2="217.5" y2="123.1" stroke="#ffffff" stroke-width="1"/>
<line x1="244.5" y1="105.2" x2="244.5" y2="123.1" stroke="#ffffff" stroke-width="1"/>
<line x1="215.3" y1="118.5" x2="246.3" y2="118.5" stroke="#ffffff" stroke-width="1"/>
<line x1="220.5" y1="123.1" x2="220.5" y2="195.6" stroke="#ffffff" stroke-width="1"/>
<line x1="241.5" y1="123.1" x2="241.5" y2="195.6" stroke="#ffffff" stroke-width="1"/>
<line x1="224.5" y1="143.6" x2="224.5" y2="195" stroke="#ffffff" stroke-width="1"/>
<line x1="237.5" y1="143.6" x2="237.5" y2="195" stroke="#ffffff" stroke-width="1"/>
<line x1="224.1" y1="143.5" x2="237.4" y2="143.5" stroke="#ffffff" stroke-width="1"/>
<line x1="220.7" y1="179.5" x2="241.2" y2="179.5" stroke="#ffffff" stroke-width="1"/>
<line x1="220.7" y1="183.5" x2="241.2" y2="183.5" stroke="#ffffff" stroke-width="1"/>
<line x1="230.5" y1="96.7" x2="230.5" y2="205" stroke="#ff0000" stroke-width="1" stroke-dasharray="14 3 3 3"/>
<line x1="251.5" y1="102.1" x2="251.5" y2="195.6" stroke="#ffffff" stroke-width="1"/>
<line x1="261.5" y1="102.1" x2="261.5" y2="195.6" stroke="#ffffff" stroke-width="1"/>
<line x1="251.4" y1="105.5" x2="261.7" y2="105.5" stroke="#ffffff" stroke-width="1"/>
<line x1="251.4" y1="108.5" x2="261.7" y2="108.5" stroke="#ffffff" stroke-width="1"/>
<line x1="251.4" y1="179.5" x2="261.7" y2="179.5" stroke="#ffffff" stroke-width="1"/>
<line x1="251.4" y1="183.5" x2="261.7" y2="183.5" stroke="#ffffff" stroke-width="1"/>
<line x1="256.5" y1="114" x2="256.5" y2="205" stroke="#ff0000" stroke-width="1" stroke-dasharray="14 3 3 3"/>
<line x1="282.5" y1="88" x2="282.5" y2="155.5" stroke="#ff0000" stroke-width="1" stroke-dasharray="14 3 3 3"/>
<path d="M262 195.5 Q267.5 195.5 267.5 201 L267.5 378.5" stroke="#ffffff" stroke-width="1" fill="none"/>
<line x1="207.5" y1="196.3" x2="166.2" y2="377.1" stroke="#ffffff" stroke-width="1"/>
<path d="M166.2 377.1 L166.2 378.5 L267.5 378.5" stroke="#ffffff" stroke-width="1" fill="none"/>
<path d="M166.2 378.5 Q159.5 379.5 159.5 386 Q159.5 395.5 152 395.5 L110 395.5 Q103.5 395.5 103.5 402 L103.5 441.5 L193 441.5" stroke="#ffffff" stroke-width="1" fill="none"/>
<path d="M206.5 441.5 Q207 432.5 214 432.5 L499 432.5" stroke="#ffffff" stroke-width="1" fill="none"/>
<path d="M313 137.5 Q306.5 137.5 306.5 143 L306.5 381 Q306.5 386.5 312 386.5 L498 386.5" stroke="#ffffff" stroke-width="1" fill="none"/>
<line x1="313" y1="137.5" x2="482" y2="137.5" stroke="#ffffff" stroke-width="1"/>
<polyline points="306.9,144.5 341.5,144.5 341.5,179.4" stroke="#ffffff" stroke-width="1" fill="none"/>
<rect x="294.5" y="156.5" width="27" height="10" rx="0" stroke="#ffffff" stroke-width="1" fill="none"/>
<line x1="297.5" y1="158.5" x2="319" y2="158.5" stroke="#ffffff" stroke-width="1"/>
<line x1="297.5" y1="164.5" x2="319" y2="164.5" stroke="#ffffff" stroke-width="1"/>
<line x1="292.5" y1="159" x2="294.9" y2="156.4" stroke="#ffffff" stroke-width="1"/>
<line x1="292.5" y1="164" x2="294.9" y2="166.6" stroke="#ffffff" stroke-width="1"/>
<line x1="292.5" y1="159" x2="292.5" y2="164" stroke="#ffffff" stroke-width="1"/>
<rect x="329.5" y="153.5" width="12" height="20" rx="0" stroke="#ffffff" stroke-width="1" fill="none"/>
<line x1="332.5" y1="153" x2="332.5" y2="173.5" stroke="#ffffff" stroke-width="1"/>
<line x1="321.4" y1="158.5" x2="329.9" y2="158.5" stroke="#ffffff" stroke-width="1"/>
<line x1="321.4" y1="165.5" x2="329.9" y2="165.5" stroke="#ffffff" stroke-width="1"/>
<line x1="278.7" y1="161.5" x2="350.4" y2="161.5" stroke="#ff0000" stroke-width="1" stroke-dasharray="14 3 3 3"/>
<path clip-path="url(#h3)" d="M256.05 161.15 L307.9 109.3 M259.58 164.68 L311.43 112.83 M263.12 168.22 L314.97 116.37 M266.65 171.75 L318.5 119.9 M270.19 175.29 L322.04 123.44 M273.72 178.82 L325.57 126.97 M277.26 182.36 L329.11 130.51 M280.8 185.9 L332.65 134.05 M284.33 189.43 L336.18 137.58 M287.87 192.97 L339.72 141.12 M291.4 196.5 L343.25 144.65 M294.94 200.04 L346.79 148.19 M298.47 203.57 L350.32 151.72 M302.01 207.11 L353.86 155.26 M305.54 210.64 L357.39 158.79 M309.08 214.18 L360.93 162.33 M312.61 217.72 L364.47 165.86" stroke="#0000ff" stroke-width="1" fill="none"/>
<polyline points="279,162 283,156 292,152.5 306.9,150.5 341.5,148.5" stroke="#0000ff" stroke-width="1" fill="none"/>
<polyline points="279,162 283,168.5 300,171 320,171.5 341.5,175" stroke="#0000ff" stroke-width="1" fill="none"/>
<polyline points="306.9,176.5 320,177 341.5,179.4" stroke="#0000ff" stroke-width="1" fill="none"/>
<line x1="306.9" y1="181.5" x2="401.8" y2="181.5" stroke="#ffffff" stroke-width="1"/>
<line x1="306.9" y1="195.5" x2="401.8" y2="195.5" stroke="#ffffff" stroke-width="1"/>
<line x1="306.9" y1="181" x2="306.9" y2="196" stroke="#ffffff" stroke-width="1.6"/>
<rect x="366.5" y="181.5" width="22" height="14" rx="0" stroke="#ffffff" stroke-width="1" fill="none"/>
<rect x="367.5" y="185.5" width="20" height="7" rx="0" stroke="#ffffff" stroke-width="1" fill="none"/>
<line x1="387" y1="185" x2="388.5" y2="183" stroke="#ffffff" stroke-width="1"/>
<line x1="387" y1="192.3" x2="388.5" y2="194" stroke="#ffffff" stroke-width="1"/>
<line x1="289.3" y1="188.5" x2="401.8" y2="188.5" stroke="#ff0000" stroke-width="1" stroke-dasharray="22 3 4 3"/>
<line x1="267.7" y1="210.5" x2="341.9" y2="210.5" stroke="#ffffff" stroke-width="1"/>
<line x1="267.7" y1="221.5" x2="341.9" y2="221.5" stroke="#ffffff" stroke-width="1"/>
<rect x="274.5" y="210.5" width="63" height="11" rx="0" stroke="#ffffff" stroke-width="1" fill="none"/>
<line x1="267.3" y1="215.5" x2="344" y2="215.5" stroke="#ff0000" stroke-width="1" stroke-dasharray="22 3 4 3"/>
<line x1="341.5" y1="145.3" x2="341.5" y2="180" stroke="#ffffff" stroke-width="1"/>
<line x1="341.5" y1="196" x2="341.5" y2="245" stroke="#ffffff" stroke-width="1"/>
<path clip-path="url(#h4)" d="M248.35 202.78 L304.68 146.45 M252.24 206.67 L308.57 150.34 M256.13 210.56 L312.46 154.23 M260.02 214.45 L316.35 158.12 M263.91 218.34 L320.24 162.01 M267.8 222.23 L324.13 165.9 M271.69 226.12 L328.02 169.79 M275.58 230.01 L331.91 173.68 M279.47 233.89 L335.79 177.57 M283.35 237.78 L339.68 181.45 M287.24 241.67 L343.57 185.34 M291.13 245.56 L347.46 189.23 M295.02 249.45 L351.35 193.12 M298.91 253.34 L355.24 197.01 M302.8 257.23 L359.13 200.9 M306.69 261.12 L363.02 204.79" stroke="#0000ff" stroke-width="1" fill="none"/>
<polyline points="268,205.5 285,203 306.9,198.5 341.9,197.5" stroke="#0000ff" stroke-width="1" fill="none"/>
<polyline points="306.9,203 320,204.5 341.9,204.5" stroke="#0000ff" stroke-width="1" fill="none"/>
<path clip-path="url(#h5)" d="M288.68 195.34 L321.81 228.47 M284.79 199.23 L317.92 232.36 M280.9 203.12 L314.03 236.25 M277.01 207.01 L310.14 240.14 M273.12 210.9 L306.25 244.03 M269.24 214.79 L302.36 247.91 M265.35 218.68 L298.47 251.8 M261.46 222.57 L294.58 255.69 M257.57 226.46 L290.69 259.58 M253.68 230.34 L286.81 263.47" stroke="#0000ff" stroke-width="1" fill="none"/>
<path clip-path="url(#h6)" d="M293.62 227.52 L323.32 197.82 M297.51 231.41 L327.21 201.71 M301.4 235.3 L331.1 205.6 M305.29 239.19 L334.99 209.49 M309.18 243.07 L338.87 213.38 M313.06 246.96 L342.76 217.26 M316.95 250.85 L346.65 221.15 M320.84 254.74 L350.54 225.04 M324.73 258.63 L354.43 228.93" stroke="#0000ff" stroke-width="1" fill="none"/>
<polyline points="267.7,232 285,238 295,238.5 306.9,228 322,236.5 341.9,236.5" stroke="#0000ff" stroke-width="1" fill="none"/>
<path clip-path="url(#h7)" d="M292.72 244.68 L321.83 215.57 M296.26 248.22 L325.37 219.11 M299.79 251.75 L328.9 222.64 M303.33 255.29 L332.44 226.18 M306.86 258.82 L335.97 229.71 M310.4 262.36 L339.51 233.25 M313.93 265.89 L343.04 236.78 M317.47 269.43 L346.58 240.32 M321.01 272.96 L350.11 243.86 M324.54 276.5 L353.65 247.39" stroke="#0000ff" stroke-width="1" fill="none"/>
<polyline points="306.9,247 318,241 317,247.5 341.9,247.5" stroke="#0000ff" stroke-width="1" fill="none"/>
<path d="M306.5 253.5 L349 253.5 Q351.5 253.5 351.5 256 L351.5 285 Q351.5 287.5 349 287.5 L306.5 287.5" stroke="#ffffff" stroke-width="1" fill="none"/>
<line x1="349.5" y1="253.5" x2="349.5" y2="287.3" stroke="#ffffff" stroke-width="1"/>
<polyline points="306.5,287.5 306.5,305.5 341.5,305.5 341.5,287.5" stroke="#ffffff" stroke-width="1" fill="none"/>
<path clip-path="url(#h8)" d="M293.9 292.99 L323.24 263.65 M297.44 296.53 L326.78 267.19 M300.98 300.07 L330.32 270.73 M304.51 303.6 L333.85 274.26 M308.05 307.14 L337.39 277.8 M311.58 310.67 L340.92 281.33 M315.12 314.21 L344.46 284.87 M318.65 317.74 L347.99 288.4 M322.19 321.28 L351.53 291.94 M325.72 324.81 L355.06 295.47" stroke="#0000ff" stroke-width="1" fill="none"/>
<polyline points="307.3,294 313,296 318,301.5 330,296 342,292" stroke="#0000ff" stroke-width="1" fill="none"/>
<rect x="319.5" y="278.5" width="1.5" height="1.5" rx="0" stroke="#ffffff" stroke-width="1" fill="#ffffff"/>
<line x1="292.3" y1="270.5" x2="520" y2="270.5" stroke="#ff0000" stroke-width="1" stroke-dasharray="26 3 4 3"/>
<path d="M398 100.5 L463 100.5 L466 101.5 L482 101.5 Q490.5 101.5 490.5 110 L490.5 129 Q490.5 137.5 482 137.5" stroke="#ffffff" stroke-width="1" fill="none"/>
<path clip-path="url(#h9)" d="M296.45 115.65 L337.1 75 M300.84 120.03 L341.48 79.39 M305.22 124.42 L345.87 83.77 M309.61 128.8 L350.25 88.16 M313.99 133.18 L354.63 92.54 M318.37 137.57 L359.02 96.92 M322.76 141.95 L363.4 101.31 M327.14 146.34 L367.79 105.69 M331.53 150.72 L372.17 110.08 M335.91 155.11 L376.56 114.46 M340.29 159.49 L380.94 118.84 M344.68 163.87 L385.32 123.23" stroke="#0000ff" stroke-width="1" fill="none"/>
<polyline points="327.3,102.1 324,115 321.3,128 323,137.6" stroke="#0000ff" stroke-width="1" fill="none"/>
<path d="M357.5 90 Q355.3 88 355.3 85 Q356 79.3 361 79.3 L366 79.3 L366 83 L371 83 L371 79.3 L376 79.3 Q380 79.3 380 85 Q380 88 378 90 Z" stroke="#ffffff" stroke-width="1" fill="none"/>
<line x1="356" y1="86.5" x2="379.5" y2="86.5" stroke="#ffffff" stroke-width="1"/>
<rect x="358.5" y="90.5" width="20" height="4" rx="0" stroke="#ffffff" stroke-width="1" fill="none"/>
<line x1="361.5" y1="94.6" x2="361.5" y2="137.6" stroke="#ffffff" stroke-width="1"/>
<line x1="374.5" y1="94.6" x2="374.5" y2="137.6" stroke="#ffffff" stroke-width="1"/>
<rect x="362.5" y="107.5" width="11" height="22" rx="0" stroke="#ffffff" stroke-width="1" fill="none"/>
<line x1="364.5" y1="129.9" x2="364.5" y2="137.6" stroke="#ffffff" stroke-width="1"/>
<line x1="371.5" y1="129.9" x2="371.5" y2="137.6" stroke="#ffffff" stroke-width="1"/>
<line x1="362" y1="133.5" x2="374" y2="133.5" stroke="#ffffff" stroke-width="1"/>
<line x1="368.5" y1="79" x2="368.5" y2="144" stroke="#ff0000" stroke-width="1" stroke-dasharray="14 3 3 3"/>
<path clip-path="url(#h10)" d="M337.26 108.22 L382.77 62.71 M340.23 111.19 L385.74 65.68 M343.2 114.16 L388.71 68.65 M346.16 117.13 L391.68 71.61 M349.13 120.1 L394.65 74.58 M352.1 123.07 L397.62 77.55 M355.07 126.04 L400.59 80.52 M358.04 129.01 L403.56 83.49 M361.01 131.98 L406.53 86.46 M363.98 134.95 L409.5 89.43 M366.95 137.92 L412.47 92.4 M369.92 140.89 L415.44 95.37 M372.89 143.86 L418.41 98.34 M375.86 146.83 L421.38 101.31 M378.83 149.8 L424.35 104.28 M381.8 152.77 L427.32 107.25 M384.77 155.74 L430.29 110.22" stroke="#0000ff" stroke-width="1" fill="none"/>
<polyline points="380.5,86 384.5,79.5 388,79.5 391,83.5" stroke="#ffffff" stroke-width="1" fill="none"/>
<line x1="379.5" y1="101.3" x2="379.5" y2="137.6" stroke="#ffffff" stroke-width="1"/>
<line x1="386.5" y1="101.3" x2="386.5" y2="137.6" stroke="#ffffff" stroke-width="1"/>
<line x1="391.5" y1="83.5" x2="391.5" y2="137.6" stroke="#ffffff" stroke-width="1"/>
<line x1="374.9" y1="98.5" x2="380.5" y2="98.5" stroke="#ffffff" stroke-width="1"/>
<line x1="380.5" y1="98" x2="380.5" y2="101.3" stroke="#ffffff" stroke-width="1"/>
<line x1="380.5" y1="101.5" x2="386" y2="101.5" stroke="#ffffff" stroke-width="1"/>
<line x1="394.5" y1="78.6" x2="394.5" y2="137.6" stroke="#0000ff" stroke-width="1"/>
<line x1="393.5" y1="76.6" x2="393.5" y2="140.5" stroke="#ff0000" stroke-width="1"/>
<polyline points="379.5,108 385.5,113 391,108" stroke="#0000ff" stroke-width="1" fill="none"/>
<polyline points="379.5,116 385.5,121 391,116" stroke="#0000ff" stroke-width="1" fill="none"/>
<polyline points="379.5,124 385.5,129 391,124" stroke="#0000ff" stroke-width="1" fill="none"/>
<polyline points="379.5,132 385.5,137 391,132" stroke="#0000ff" stroke-width="1" fill="none"/>
<path d="M384.5 79.5 Q386 78.3 388 78.3 L403 78.3 Q406.6 79 406.6 83 L406.6 88.6 L394.6 88.6" stroke="#ffffff" stroke-width="1" fill="none"/>
<path clip-path="url(#h11)" d="M387 83.93 L399.93 71 M390.19 87.11 L403.11 74.19 M393.37 90.29 L406.29 77.37 M396.55 93.48 L409.48 80.55 M399.73 96.66 L412.66 83.73 M402.91 99.84 L415.84 86.91" stroke="#0000ff" stroke-width="1" fill="none"/>
<path clip-path="url(#h12)" d="M401.3 70.37 L414.23 83.3 M398.12 73.56 L411.04 86.48 M394.94 76.74 L407.86 89.66 M391.75 79.92 L404.68 92.85 M388.57 83.1 L401.5 96.03 M385.39 86.28 L398.32 99.21" stroke="#0000ff" stroke-width="1" fill="none"/>
<polyline points="395.5,88.6 395.5,97.5 405.5,97.5 405.5,88.6" stroke="#ffffff" stroke-width="1" fill="none"/>
<line x1="404.5" y1="97" x2="404.5" y2="100.5" stroke="#ffffff" stroke-width="1"/>
<line x1="396" y1="99.5" x2="404" y2="99.5" stroke="#ffffff" stroke-width="1"/>
<line x1="409.5" y1="76" x2="409.5" y2="140.5" stroke="#ff0000" stroke-width="1" stroke-dasharray="10 3"/>
<path d="M413 88.6 L413 82 Q413 79.5 416 79.5 L436 79.5 Q438.5 79.5 438.5 82 L438.5 88.6 Z" stroke="#ffffff" stroke-width="1" fill="none"/>
<path clip-path="url(#h13)" d="M401.89 81.77 L422.97 60.69 M405.08 84.95 L426.15 63.88 M408.26 88.13 L429.33 67.06 M411.44 91.31 L432.51 70.24 M414.62 94.5 L435.7 73.42 M417.8 97.68 L438.88 76.6 M420.99 100.86 L442.06 79.79 M424.17 104.04 L445.24 82.97 M427.35 107.22 L448.42 86.15" stroke="#0000ff" stroke-width="1" fill="none"/>
<path clip-path="url(#h14)" d="M425.99 63.24 L447.06 84.31 M422.8 66.42 L443.88 87.5 M419.62 69.6 L440.7 90.68 M416.44 72.79 L437.51 93.86 M413.26 75.97 L434.33 97.04 M410.08 79.15 L431.15 100.22 M406.89 82.33 L427.97 103.41 M403.71 85.51 L424.79 106.59" stroke="#0000ff" stroke-width="1" fill="none"/>
<polyline points="414.5,88.6 414.5,99.5 437.5,99.5 437.5,88.6" stroke="#ffffff" stroke-width="1" fill="none"/>
<line x1="414.6" y1="93.5" x2="437" y2="93.5" stroke="#ffffff" stroke-width="1"/>
<line x1="415.5" y1="99" x2="415.5" y2="100.5" stroke="#ffffff" stroke-width="1"/>
<line x1="436.5" y1="99" x2="436.5" y2="100.5" stroke="#ffffff" stroke-width="1"/>
<line x1="426.5" y1="76" x2="426.5" y2="140.5" stroke="#ff0000" stroke-width="1" stroke-dasharray="10 3"/>
<path d="M442 90 Q439.9 88 439.9 85 Q440.5 79.3 445 79.3 L450.3 79.3 L450.3 83 L453.2 83 L453.2 79.3 L459 79.3 Q464.5 79.3 464.5 85 Q464.5 88 462.5 90 Z" stroke="#ffffff" stroke-width="1" fill="none"/>
<line x1="440.5" y1="86.5" x2="464" y2="86.5" stroke="#ffffff" stroke-width="1"/>
<rect x="441.5" y="90.5" width="19" height="4" rx="0" stroke="#ffffff" stroke-width="1" fill="none"/>
<line x1="443.5" y1="94.6" x2="443.5" y2="100.5" stroke="#ffffff" stroke-width="1"/>
<line x1="458.5" y1="94.6" x2="458.5" y2="100.5" stroke="#ffffff" stroke-width="1"/>
<line x1="442.5" y1="94.6" x2="442.5" y2="100.5" stroke="#ffffff" stroke-width="1"/>
<line x1="441.9" y1="97.5" x2="458.5" y2="97.5" stroke="#ffffff" stroke-width="1"/>
<line x1="451.5" y1="79" x2="451.5" y2="140.5" stroke="#ff0000" stroke-width="1" stroke-dasharray="14 3 3 3"/>
<line x1="396" y1="100.5" x2="463" y2="100.5" stroke="#ffffff" stroke-width="1"/>
<polyline points="384.5,220 384.5,171.5 402.5,171.5 402.5,209.5 416.5,209.5 416.5,171.5 435.5,171.5 435.5,220" stroke="#00ff00" stroke-width="1" fill="none"/>
<line x1="389.5" y1="171.6" x2="389.5" y2="181.5" stroke="#ffffff" stroke-width="1"/>
<line x1="393.5" y1="166" x2="393.5" y2="186.6" stroke="#ffffff" stroke-width="1"/>
<line x1="397.5" y1="171.6" x2="397.5" y2="181.5" stroke="#ffffff" stroke-width="1"/>
<line x1="422.5" y1="171.6" x2="422.5" y2="181.5" stroke="#ffffff" stroke-width="1"/>
<line x1="425.5" y1="166" x2="425.5" y2="186.6" stroke="#ffffff" stroke-width="1"/>
<line x1="429.5" y1="171.6" x2="429.5" y2="181.5" stroke="#ffffff" stroke-width="1"/>
<line x1="384.2" y1="181.5" x2="402.8" y2="181.5" stroke="#ffffff" stroke-width="1"/>
<line x1="416.4" y1="181.5" x2="435" y2="181.5" stroke="#ffffff" stroke-width="1"/>
<line x1="416.4" y1="195.5" x2="435" y2="195.5" stroke="#ffffff" stroke-width="1"/>
<line x1="409.5" y1="163" x2="409.5" y2="365.6" stroke="#ff0000" stroke-width="1" stroke-dasharray="26 3 4 3"/>
<path d="M384.2 219.9 Q392 221 395.1 225.5" stroke="#00ff00" stroke-width="1" fill="none"/>
<path d="M392.5 212.5 Q399 231 392.5 249.5" stroke="#00ff00" stroke-width="1" fill="none"/>
<path d="M341.9 243.5 L387 243.5 Q393 242.5 395.2 237" stroke="#00ff00" stroke-width="1" fill="none"/>
<line x1="341.9" y1="243.5" x2="387" y2="243.5" stroke="#00ff00" stroke-width="1"/>
<path d="M435 219.9 Q427 221 423.9 225.5" stroke="#00ff00" stroke-width="1" fill="none"/>
<path d="M426.5 212.5 Q420 231 426.5 249.5" stroke="#00ff00" stroke-width="1" fill="none"/>
<path d="M424 237 Q426 242.5 432.7 243.5 L478.8 243.5 L478.8 298.3" stroke="#00ff00" stroke-width="1" fill="none"/>
<path d="M332.7 347.9 A76.9 76.9 0 0 1 486.5 347.9" stroke="#00ff00" stroke-width="1" fill="none" stroke-dasharray="40 2.5 6 2.5"/>
<path d="M351.9 343.5 A60.3 60.3 0 0 1 468.3 343.5" stroke="#00ff00" stroke-width="1" fill="none" stroke-dasharray="40 2.5 6 2.5"/>
<polyline points="332.5,347.9 332.5,381.5 353.5,381.5 353.5,343.5" stroke="#00ff00" stroke-width="1" fill="none"/>
<polyline points="486.5,347.9 486.5,381.5 466.5,381.5 466.5,343.5" stroke="#00ff00" stroke-width="1" fill="none"/>
<line x1="334.5" y1="345.5" x2="334.5" y2="364.6" stroke="#00ff00" stroke-width="1"/>
<line x1="351.5" y1="345" x2="351.5" y2="364.6" stroke="#00ff00" stroke-width="1"/>
<line x1="468.5" y1="345" x2="468.5" y2="364.6" stroke="#00ff00" stroke-width="1"/>
<line x1="485.5" y1="345.5" x2="485.5" y2="364.6" stroke="#00ff00" stroke-width="1"/>
<line x1="342" y1="298" x2="345" y2="299" stroke="#ffff00" stroke-width="1"/>
<line x1="475.5" y1="298.6" x2="478.8" y2="298" stroke="#ffff00" stroke-width="1"/>
<line x1="332.7" y1="345" x2="333.8" y2="342" stroke="#ffff00" stroke-width="1"/>
<line x1="353" y1="343" x2="351.9" y2="340" stroke="#ffff00" stroke-width="1"/>
<path d="M345 299 Q347.5 300.5 348 303" stroke="#00ff00" stroke-width="1" fill="none"/>
<path d="M475.5 298.6 Q472.5 300 472 303" stroke="#00ff00" stroke-width="1" fill="none"/>
<path clip-path="url(#h15)" d="M564.79 165.98 L591.52 192.71 M560.54 170.22 L587.28 196.96 M556.3 174.46 L583.04 201.2 M552.06 178.71 L578.79 205.44 M547.82 182.95 L574.55 209.68 M543.57 187.19 L570.31 213.93 M539.33 191.43 L566.07 218.17 M535.09 195.68 L561.82 222.41" stroke="#ffffff" stroke-width="1" fill="none"/>
<path clip-path="url(#h16)" d="M563.48 198.61 L601.49 236.62 M559.24 202.86 L597.24 240.86 M554.99 207.1 L593 245.11 M550.75 211.34 L588.76 249.35 M546.51 215.58 L584.52 253.59 M542.27 219.83 L580.27 257.83 M538.02 224.07 L576.03 262.08 M533.78 228.31 L571.79 266.32 M529.54 232.55 L567.55 270.56 M525.3 236.8 L563.3 274.8 M521.05 241.04 L559.06 279.05" stroke="#ffffff" stroke-width="1" fill="none"/>
<path clip-path="url(#h17)" d="M562.56 257.09 L621.86 316.39 M558.32 261.34 L617.61 320.63 M554.08 265.58 L613.37 324.87 M549.84 269.82 L609.13 329.11 M545.59 274.06 L604.89 333.36 M541.35 278.31 L600.64 337.6 M537.11 282.55 L596.4 341.84 M532.87 286.79 L592.16 346.08 M528.62 291.04 L587.91 350.33 M524.38 295.28 L583.67 354.57 M520.14 299.52 L579.43 358.81 M515.9 303.76 L575.19 363.05 M511.65 308.01 L570.94 367.3 M507.41 312.25 L566.7 371.54 M503.17 316.49 L562.46 375.78" stroke="#ffffff" stroke-width="1" fill="none"/>
<polyline points="550.5,259.2 550.5,183.5 574.5,183.5 574.5,259.2" stroke="#ffffff" stroke-width="1" fill="none"/>
<line x1="550.5" y1="278.4" x2="550.5" y2="354.4" stroke="#ffffff" stroke-width="1"/>
<line x1="574.5" y1="278.4" x2="574.5" y2="354.4" stroke="#ffffff" stroke-width="1"/>
<path clip-path="url(#h18)" d="M564.31 199.37 L578.82 184.86 M567.84 202.9 L582.35 188.39 M571.38 206.44 L585.89 191.93 M574.91 209.97 L589.42 195.46 M578.45 213.51 L592.96 199 M581.98 217.05 L596.5 202.53" stroke="#ffffff" stroke-width="1" fill="none"/>
<path clip-path="url(#h19)" d="M548.31 236.58 L586.93 197.96 M551.85 240.11 L590.46 201.5 M555.38 243.65 L594 205.03 M558.92 247.18 L597.53 208.57 M562.45 250.72 L601.07 212.1 M565.99 254.25 L604.6 215.64 M569.53 257.79 L608.14 219.18 M573.06 261.33 L611.68 222.71 M576.6 264.86 L615.21 226.25 M580.13 268.4 L618.75 229.78 M583.67 271.93 L622.28 233.32 M587.2 275.47 L625.82 236.85 M590.74 279 L629.35 240.39" stroke="#ffffff" stroke-width="1" fill="none"/>
<polyline points="574.8,192.5 582.5,192.5 582.5,251.5 595.1,251.5" stroke="#ffffff" stroke-width="1" fill="none"/>
<path clip-path="url(#h20)" d="M530.33 311.13 L588.98 252.48 M533.86 314.66 L592.51 256.01 M537.4 318.2 L596.05 259.55 M540.93 321.74 L599.59 263.08 M544.47 325.27 L603.12 266.62 M548.01 328.81 L606.66 270.16 M551.54 332.34 L610.19 273.69 M555.08 335.88 L613.73 277.23 M558.61 339.41 L617.26 280.76 M562.15 342.95 L620.8 284.3 M565.68 346.48 L624.33 287.83 M569.22 350.02 L627.87 291.37 M572.75 353.56 L631.41 294.9 M576.29 357.09 L634.94 298.44 M579.83 360.63 L638.48 301.98 M583.36 364.16 L642.01 305.51 M586.9 367.7 L645.55 309.05 M590.43 371.23 L649.08 312.58 M593.97 374.77 L652.62 316.12" stroke="#ffffff" stroke-width="1" fill="none"/>
<polyline points="582.6,349.5 574.8,349.5" stroke="#ffffff" stroke-width="1" fill="none"/>
<line x1="582.5" y1="287" x2="582.5" y2="349.6" stroke="#ffffff" stroke-width="1"/>
<polyline points="582.6,287.5 595.5,287.5 595.5,300" stroke="#ffffff" stroke-width="1" fill="none"/>
<line x1="525.9" y1="211.5" x2="595.1" y2="211.5" stroke="#ff0000" stroke-width="1" stroke-dasharray="22 3 5 3"/>
<rect x="531.5" y="206.5" width="8" height="9" rx="0" stroke="#ffffff" stroke-width="1" fill="none"/>
<line x1="536.5" y1="204.8" x2="536.5" y2="217.5" stroke="#ff0000" stroke-width="1"/>
<path d="M540.5 201.3 L547.3 201.3 L548.6 203 L548.6 219.5 L547.3 221.2 L540.5 221.2 L539.2 219.5 L539.2 203 Z" stroke="#ffffff" stroke-width="1" fill="none"/>
<line x1="539.2" y1="206.5" x2="548.6" y2="206.5" stroke="#ffffff" stroke-width="1"/>
<line x1="539.2" y1="215.5" x2="548.6" y2="215.5" stroke="#ffffff" stroke-width="1"/>
<line x1="541" y1="218.5" x2="547" y2="219.5" stroke="#ffffff" stroke-width="1"/>
<rect x="548.5" y="203.5" width="2" height="16" rx="0" stroke="#ffffff" stroke-width="1" fill="none"/>
<line x1="550.3" y1="206.5" x2="582.9" y2="206.5" stroke="#ffffff" stroke-width="1"/>
<line x1="550.3" y1="215.5" x2="582.9" y2="215.5" stroke="#ffffff" stroke-width="1"/>
<line x1="562.5" y1="206.6" x2="562.5" y2="215.9" stroke="#ffffff" stroke-width="1"/>
<path d="M584 201.3 L588.5 201.3 L589.8 203 L589.8 219.5 L588.5 221.2 L584 221.2 L582.9 219.5 L582.9 203 Z" stroke="#ffffff" stroke-width="1" fill="none"/>
<line x1="582.9" y1="206.5" x2="589.8" y2="206.5" stroke="#ffffff" stroke-width="1"/>
<line x1="582.9" y1="215.5" x2="589.8" y2="215.5" stroke="#ffffff" stroke-width="1"/>
<line x1="549.6" y1="204.5" x2="549.6" y2="206" stroke="#00ffff" stroke-width="1.5"/>
<line x1="549.6" y1="218.5" x2="549.6" y2="220.5" stroke="#00ffff" stroke-width="1.5"/>
<line x1="499.4" y1="259.5" x2="639.1" y2="259.5" stroke="#ffffff" stroke-width="1"/>
<line x1="510.5" y1="235.2" x2="510.5" y2="259.2" stroke="#ffffff" stroke-width="1"/>
<line x1="499.3" y1="245.5" x2="514" y2="245.5" stroke="#ffffff" stroke-width="1"/>
<path clip-path="url(#h21)" d="M445.92 268.26 L487.06 227.12 M449.45 271.8 L490.6 230.65 M452.99 275.33 L494.13 234.19 M456.52 278.87 L497.67 237.72 M460.06 282.4 L501.2 241.26 M463.59 285.94 L504.74 244.79 M467.13 289.47 L508.27 248.33 M470.67 293.01 L511.81 251.87 M474.2 296.55 L515.35 255.4 M477.74 300.08 L518.88 258.94 M481.27 303.62 L522.42 262.47 M484.81 307.15 L525.95 266.01 M488.34 310.69 L529.49 269.54 M491.88 314.22 L533.02 273.08" stroke="#ffffff" stroke-width="1" fill="none"/>
<polyline points="479,245.5 514,245.5" stroke="#ffffff" stroke-width="1" fill="none"/>
<polyline points="479,295.5 514,295.5" stroke="#ffffff" stroke-width="1" fill="none"/>
<line x1="499.5" y1="245.3" x2="499.5" y2="295.5" stroke="#ffffff" stroke-width="1"/>
<polyline points="479,256.5 492.5,256.5 492.5,284.5 479,284.5" stroke="#ffffff" stroke-width="1" fill="none"/>
<rect x="484.5" y="264.5" width="7" height="12" rx="0" stroke="#ffffff" stroke-width="1" fill="none"/>
<line x1="491.6" y1="266.5" x2="516.4" y2="266.5" stroke="#ffffff" stroke-width="1"/>
<line x1="491.6" y1="274.5" x2="516.4" y2="274.5" stroke="#ffffff" stroke-width="1"/>
<line x1="516.5" y1="266.5" x2="516.5" y2="274.8" stroke="#ffffff" stroke-width="1"/>
<line x1="512.5" y1="266.5" x2="512.5" y2="274.8" stroke="#ffffff" stroke-width="1"/>
<line x1="514.5" y1="266.5" x2="514.5" y2="274.8" stroke="#ffffff" stroke-width="1"/>
<path clip-path="url(#h22)" d="M515.67 239.9 L541.95 266.18 M512.13 243.43 L538.42 269.72 M508.6 246.97 L534.88 273.25 M505.06 250.5 L531.35 276.79 M501.53 254.04 L527.81 280.32 M497.99 257.57 L524.28 283.86 M494.45 261.11 L520.74 287.4 M490.92 264.65 L517.2 290.93 M487.38 268.18 L513.67 294.47 M483.85 271.72 L510.13 298" stroke="#ffffff" stroke-width="1" fill="none"/>
<polyline points="521.5,259.4 526.5,264.8 526.5,273 521.5,278.1" stroke="#ffffff" stroke-width="1" fill="none"/>
<line x1="481.2" y1="267.5" x2="501.1" y2="267.5" stroke="#ff0000" stroke-width="1"/>
<line x1="470" y1="270.5" x2="525.6" y2="270.5" stroke="#ff0000" stroke-width="1" stroke-dasharray="16 3 3 3"/>
<rect x="485.5" y="269.2" width="4.2" height="4.1" rx="0" stroke="#ff00ff" stroke-width="0.5" fill="#ff00ff"/>
<line x1="499.4" y1="278.5" x2="640" y2="278.5" stroke="#ffffff" stroke-width="1"/>
<line x1="510.5" y1="259.2" x2="510.5" y2="319" stroke="#ffffff" stroke-width="1"/>
<line x1="499.3" y1="295.5" x2="514" y2="295.5" stroke="#ffffff" stroke-width="1"/>
<text transform="translate(507 314) rotate(-90) scale(0.8 1)" font-size="7" fill="#ffffff" text-anchor="middle" font-weight="bold" font-family='"Liberation Sans", "Noto Sans CJK SC", sans-serif'>Φ18</text>
<line x1="516" y1="330.5" x2="605.6" y2="330.5" stroke="#ffffff" stroke-width="1" stroke-dasharray="20 3 4 3"/>
<path clip-path="url(#h23)" d="M573.7 240.88 L607.63 206.95 M576.89 244.07 L610.82 210.14 M580.07 247.25 L614 213.32 M583.25 250.43 L617.18 216.5 M586.43 253.61 L620.36 219.68 M589.61 256.79 L623.54 222.86 M592.8 259.98 L626.73 226.05 M595.98 263.16 L629.91 229.23 M599.16 266.34 L633.09 232.41 M602.34 269.52 L636.27 235.59 M605.52 272.7 L639.45 238.77 M608.71 275.89 L642.64 241.96" stroke="#ffffff" stroke-width="1" fill="none"/>
<polyline points="595.5,251.9 595.5,224.5 608.5,224.5 608.5,238.9" stroke="#ffffff" stroke-width="1" fill="none"/>
<polyline points="595.5,284 595.5,313.5 608.5,313.5 608.5,300.4" stroke="#ffffff" stroke-width="1" fill="none"/>
<path clip-path="url(#h24)" d="M578.62 286.87 L606.02 259.47 M581.81 290.06 L609.21 262.66 M584.99 293.24 L612.39 265.84 M588.17 296.42 L615.57 269.02 M591.35 299.6 L618.75 272.2 M594.53 302.78 L621.93 275.38 M597.72 305.97 L625.12 278.57 M600.9 309.15 L628.3 281.75 M604.08 312.33 L631.48 284.93 M607.26 315.51 L634.66 288.11 M610.44 318.69 L637.84 291.29" stroke="#ffffff" stroke-width="1" fill="none"/>
<rect x="616.5" y="246.5" width="6" height="8" rx="0" stroke="#ffffff" stroke-width="1" fill="none"/>
<rect x="616.5" y="284.5" width="6" height="9" rx="0" stroke="#ffffff" stroke-width="1" fill="none"/>
<line x1="622.5" y1="243.3" x2="622.5" y2="259.2" stroke="#ffffff" stroke-width="1"/>
<line x1="622.5" y1="278.4" x2="622.5" y2="295.6" stroke="#ffffff" stroke-width="1"/>
<path clip-path="url(#h25)" d="M581.5 239.45 L662.45 158.5 M584.68 242.63 L665.63 161.68 M587.86 245.82 L668.82 164.86 M591.04 249 L672 168.04 M594.23 252.18 L675.18 171.23 M597.41 255.36 L678.36 174.41 M600.59 258.54 L681.54 177.59 M603.77 261.73 L684.73 180.77 M606.95 264.91 L687.91 183.95 M610.14 268.09 L691.09 187.14 M613.32 271.27 L694.27 190.32 M616.5 274.45 L697.45 193.5 M619.68 277.64 L700.64 196.68 M622.86 280.82 L703.82 199.86 M626.05 284 L707 203.05 M629.23 287.18 L710.18 206.23 M632.41 290.36 L713.36 209.41 M635.59 293.55 L716.55 212.59 M638.77 296.73 L719.73 215.77 M641.96 299.91 L722.91 218.96 M645.14 303.09 L726.09 222.14 M648.32 306.27 L729.27 225.32 M651.5 309.46 L732.46 228.5 M654.68 312.64 L735.64 231.68 M657.87 315.82 L738.82 234.87 M661.05 319 L742 238.05 M664.23 322.18 L745.18 241.23" stroke="#ffffff" stroke-width="1" fill="none"/>
<rect x="608.5" y="238.5" width="111" height="5" rx="0" stroke="#ffffff" stroke-width="1" fill="none"/>
<path clip-path="url(#h26)" d="M581.68 296.55 L662.65 215.58 M584.86 299.73 L665.83 218.76 M588.04 302.91 L669.01 221.94 M591.23 306.09 L672.19 225.13 M594.41 309.27 L675.37 228.31 M597.59 312.46 L678.56 231.49 M600.77 315.64 L681.74 234.67 M603.95 318.82 L684.92 237.85 M607.14 322 L688.1 241.04 M610.32 325.18 L691.28 244.22 M613.5 328.37 L694.47 247.4 M616.68 331.55 L697.65 250.58 M619.86 334.73 L700.83 253.76 M623.05 337.91 L704.01 256.95 M626.23 341.09 L707.19 260.13 M629.41 344.28 L710.38 263.31 M632.59 347.46 L713.56 266.49 M635.77 350.64 L716.74 269.67 M638.96 353.82 L719.92 272.86 M642.14 357 L723.1 276.04 M645.32 360.19 L726.29 279.22 M648.5 363.37 L729.47 282.4 M651.68 366.55 L732.65 285.58 M654.87 369.73 L735.83 288.77 M658.05 372.91 L739.01 291.95 M661.23 376.1 L742.2 295.13 M664.41 379.28 L745.38 298.31" stroke="#ffffff" stroke-width="1" fill="none"/>
<rect x="608.5" y="295.5" width="111" height="5" rx="0" stroke="#ffffff" stroke-width="1" fill="none"/>
<line x1="608.9" y1="231.5" x2="719.3" y2="231.5" stroke="#ffffff" stroke-width="1"/>
<line x1="608.9" y1="237.5" x2="719.3" y2="237.5" stroke="#ffffff" stroke-width="1"/>
<line x1="608.9" y1="301.5" x2="719.3" y2="301.5" stroke="#ffffff" stroke-width="1"/>
<line x1="608.9" y1="307.5" x2="719.3" y2="307.5" stroke="#ffffff" stroke-width="1"/>
<path clip-path="url(#h27)" d="M728.47 200.26 L795.24 267.03 M725.28 203.44 L792.06 270.22 M722.1 206.62 L788.88 273.4 M718.92 209.8 L785.7 276.58 M715.74 212.98 L782.52 279.76 M712.56 216.17 L779.33 282.94 M709.37 219.35 L776.15 286.13 M706.19 222.53 L772.97 289.31 M703.01 225.71 L769.79 292.49 M699.83 228.89 L766.61 295.67 M696.65 232.08 L763.42 298.85 M693.46 235.26 L760.24 302.04 M690.28 238.44 L757.06 305.22 M687.1 241.62 L753.88 308.4 M683.92 244.8 L750.7 311.58 M680.74 247.99 L747.51 314.76 M677.55 251.17 L744.33 317.95 M674.37 254.35 L741.15 321.13 M671.19 257.53 L737.97 324.31 M668.01 260.71 L734.79 327.49 M664.83 263.9 L731.6 330.67 M661.64 267.08 L728.42 333.86 M658.46 270.26 L725.24 337.04" stroke="#ffffff" stroke-width="1" fill="none"/>
<rect x="719.5" y="224.5" width="14" height="89" rx="0" stroke="#ffffff" stroke-width="1" fill="none"/>
<polyline points="719.3,256.5 724.5,256.5 724.5,283.5 719.3,283.5" stroke="#ffffff" stroke-width="1" fill="none"/>
<polyline points="706.5,243.3 706.5,247.5 719.3,247.5" stroke="#ffffff" stroke-width="1" fill="none"/>
<polyline points="706.5,295.6 706.5,291.5 719.3,291.5" stroke="#ffffff" stroke-width="1" fill="none"/>
<rect x="588.5" y="230.5" width="7" height="8" rx="0" stroke="#ffffff" stroke-width="1" fill="none"/>
<line x1="590.5" y1="230" x2="590.5" y2="238.9" stroke="#ffffff" stroke-width="1"/>
<rect x="588.5" y="299.5" width="7" height="9" rx="0" stroke="#ffffff" stroke-width="1" fill="none"/>
<line x1="590.5" y1="299.6" x2="590.5" y2="308.5" stroke="#ffffff" stroke-width="1"/>
<rect x="733.5" y="228.5" width="6" height="10" rx="0" stroke="#ffffff" stroke-width="1" fill="none"/>
<line x1="736.5" y1="228.5" x2="736.5" y2="238.9" stroke="#ffffff" stroke-width="1"/>
<rect x="733.5" y="299.5" width="6" height="10" rx="0" stroke="#ffffff" stroke-width="1" fill="none"/>
<line x1="736.5" y1="299" x2="736.5" y2="309.3" stroke="#ffffff" stroke-width="1"/>
<line x1="598.5" y1="224.4" x2="598.5" y2="251" stroke="#ffffff" stroke-width="1"/>
<line x1="604.5" y1="224.4" x2="604.5" y2="251" stroke="#ffffff" stroke-width="1"/>
<line x1="601.5" y1="218.9" x2="601.5" y2="253" stroke="#ffffff" stroke-width="1"/>
<line x1="586.4" y1="234.5" x2="610.8" y2="234.5" stroke="#ff0000" stroke-width="1"/>
<line x1="708.9" y1="234.5" x2="739" y2="234.5" stroke="#ff0000" stroke-width="1"/>
<line x1="726.5" y1="217.1" x2="726.5" y2="258.1" stroke="#ff0000" stroke-width="1" stroke-dasharray="18 3 4 3"/>
<line x1="640.5" y1="259.2" x2="640.5" y2="278.4" stroke="#ffffff" stroke-width="1"/>
<path clip-path="url(#h28)" d="M647.3 233.64 L664.66 251 M644.12 236.83 L661.47 254.18 M640.94 240.01 L658.29 257.36 M637.75 243.19 L655.11 260.55 M634.57 246.37 L651.93 263.73 M631.39 249.55 L648.75 266.91 M628.21 252.73 L645.57 270.09" stroke="#ffffff" stroke-width="1" fill="none"/>
<path clip-path="url(#h29)" d="M648.66 266.82 L666.78 284.94 M645.48 270.01 L663.59 288.12 M642.3 273.19 L660.41 291.3 M639.12 276.37 L657.23 294.48 M635.93 279.55 L654.05 297.67 M632.75 282.73 L650.87 300.85 M629.57 285.92 L647.68 304.03 M626.39 289.1 L644.5 307.21" stroke="#ffffff" stroke-width="1" fill="none"/>
<rect x="640.5" y="243.5" width="13" height="52" rx="0" stroke="#ffffff" stroke-width="1" fill="none"/>
<line x1="642.5" y1="243.8" x2="642.5" y2="259.2" stroke="#ffffff" stroke-width="1"/>
<line x1="642.5" y1="278.4" x2="642.5" y2="295.2" stroke="#ffffff" stroke-width="1"/>
<line x1="640" y1="259.5" x2="653.6" y2="259.5" stroke="#ffffff" stroke-width="1"/>
<line x1="640" y1="278.5" x2="653.6" y2="278.5" stroke="#ffffff" stroke-width="1"/>
<rect x="653.5" y="255.5" width="4" height="27" rx="0" stroke="#ffffff" stroke-width="1" fill="none"/>
<path d="M657 258 L666 258 L669.6 264 L669.6 275 L666 281.5 L657 281.5" stroke="#ffffff" stroke-width="1" fill="none"/>
<line x1="657" y1="263.5" x2="669.6" y2="263.5" stroke="#ffffff" stroke-width="1"/>
<line x1="657" y1="275.5" x2="669.6" y2="275.5" stroke="#ffffff" stroke-width="1"/>
<line x1="666.5" y1="258" x2="666.5" y2="281.5" stroke="#ffffff" stroke-width="1"/>
<line x1="660" y1="256.5" x2="666" y2="263" stroke="#00ffff" stroke-width="1"/>
<line x1="660" y1="276" x2="666" y2="282.5" stroke="#00ffff" stroke-width="1"/>
<circle cx="601.5" cy="257.8" r="1.6" stroke="#00ffff" stroke-width="1" fill="#00ffff"/>
<circle cx="601.5" cy="280.6" r="1.6" stroke="#00ffff" stroke-width="1" fill="#00ffff"/>
<polyline points="677.2,203.5 691.5,203.5 691.5,211.7" stroke="#ffffff" stroke-width="1" fill="none"/>
<text transform="translate(686 198.8) scale(0.8 1)" font-size="6.5" fill="#ffffff" text-anchor="middle" font-weight="bold" font-family='"Liberation Sans", "Noto Sans CJK SC", sans-serif'>B</text>
<polyline points="677.2,341.5 691.5,341.5 691.5,331.8" stroke="#ffffff" stroke-width="1" fill="none"/>
<text transform="translate(688 352.5) scale(0.8 1)" font-size="6.5" fill="#ffffff" text-anchor="middle" font-weight="bold" font-family='"Liberation Sans", "Noto Sans CJK SC", sans-serif'>B</text>
<path clip-path="url(#h30)" d="M435.84 409.86 L606.26 239.44 M439.09 413.11 L609.51 242.69 M442.35 416.36 L612.76 245.95 M445.6 419.62 L616.02 249.2 M448.85 422.87 L619.27 252.45 M452.11 426.12 L622.52 255.71 M455.36 429.37 L625.77 258.96 M458.61 432.63 L629.03 262.21 M461.86 435.88 L632.28 265.46 M465.12 439.13 L635.53 268.72 M468.37 442.38 L638.78 271.97 M471.62 445.64 L642.04 275.22 M474.87 448.89 L645.29 278.47 M478.13 452.14 L648.54 281.73 M481.38 455.4 L651.8 284.98 M484.63 458.65 L655.05 288.23 M487.88 461.9 L658.3 291.48 M491.14 465.15 L661.55 294.74 M494.39 468.41 L664.81 297.99 M497.64 471.66 L668.06 301.24 M500.9 474.91 L671.31 304.5 M504.15 478.16 L674.56 307.75 M507.4 481.42 L677.82 311 M510.65 484.67 L681.07 314.25 M513.91 487.92 L684.32 317.51 M517.16 491.18 L687.58 320.76 M520.41 494.43 L690.83 324.01 M523.66 497.68 L694.08 327.26 M526.92 500.93 L697.33 330.52 M530.17 504.19 L700.59 333.77 M533.42 507.44 L703.84 337.02 M536.68 510.69 L707.09 340.28 M539.93 513.94 L710.34 343.53 M543.18 517.2 L713.6 346.78 M546.43 520.45 L716.85 350.03 M549.69 523.7 L720.1 353.29 M552.94 526.95 L723.35 356.54 M556.19 530.21 L726.61 359.79 M559.44 533.46 L729.86 363.04 M562.7 536.71 L733.11 366.3 M565.95 539.97 L736.37 369.55 M569.2 543.22 L739.62 372.8 M572.45 546.47 L742.87 376.05 M575.71 549.72 L746.12 379.31 M578.96 552.98 L749.38 382.56 M582.21 556.23 L752.63 385.81 M585.47 559.48 L755.88 389.07 M588.72 562.73 L759.13 392.32 M591.97 565.99 L762.39 395.57 M595.22 569.24 L765.64 398.82 M598.48 572.49 L768.89 402.08 M601.73 575.75 L772.15 405.33 M604.98 579 L775.4 408.58 M608.23 582.25 L778.65 411.83" stroke="#ffffff" stroke-width="1" fill="none"/>
<path d="M502.5 378.5 L699.2 378.5 Q703.5 378.5 705 385 Q707 394.5 711 395.5 L754.9 395.5 Q760.5 395.5 760.5 402 L760.5 442.5 L657.7 442.5 Q655 436 650.6 432.5 L498.5 432.5" stroke="#ffffff" stroke-width="1" fill="none"/>
<line x1="711" y1="401.5" x2="760.8" y2="401.5" stroke="#ffffff" stroke-width="1"/>
<line x1="720.5" y1="401.8" x2="720.5" y2="442" stroke="#ffffff" stroke-width="1"/>
<line x1="741.5" y1="401.8" x2="741.5" y2="442" stroke="#ffffff" stroke-width="1"/>
<line x1="711.5" y1="395.8" x2="711.5" y2="401.8" stroke="#ffffff" stroke-width="1"/>
<polyline points="492.3,387.5 494,410 498.5,432.6" stroke="#0000ff" stroke-width="1" fill="none"/>
<line x1="492.3" y1="387.5" x2="502.5" y2="378" stroke="#ffffff" stroke-width="1"/>
<text transform="translate(740.5 423) rotate(-90) scale(0.8 1)" font-size="7.5" fill="#ffffff" text-anchor="middle" font-weight="bold" font-family='"Liberation Serif", "Noto Serif CJK SC", serif'>24</text>
<path d="M712 418 Q716 422 714 430" stroke="#ffffff" stroke-width="1" fill="none"/>
<path clip-path="url(#h31)" d="M539.44 305.25 L597.2 363.01 M536.19 308.5 L593.95 366.26 M532.94 311.76 L590.69 369.51 M529.69 315.01 L587.44 372.76 M526.43 318.26 L584.19 376.02 M523.18 321.51 L580.94 379.27 M519.93 324.77 L577.68 382.52 M516.68 328.02 L574.43 385.77 M513.42 331.27 L571.18 389.03 M510.17 334.52 L567.93 392.28 M506.92 337.78 L564.67 395.53 M503.66 341.03 L561.42 398.79 M500.41 344.28 L558.17 402.04 M497.16 347.54 L554.91 405.29 M493.91 350.79 L551.66 408.54 M490.65 354.04 L548.41 411.8 M487.4 357.29 L545.16 415.05 M484.15 360.55 L541.9 418.3 M480.9 363.8 L538.65 421.55 M477.64 367.05 L535.4 424.81" stroke="#ffffff" stroke-width="1" fill="none"/>
<polyline points="502.5,378 502.5,354.5 550.4,354.5" stroke="#ffffff" stroke-width="1" fill="none"/>
<polyline points="515.5,354.4 515.5,368.5 543.5,368.5 543.5,354.4" stroke="#ffffff" stroke-width="1" fill="none"/>
<line x1="574.5" y1="349.6" x2="574.5" y2="378" stroke="#ffffff" stroke-width="1"/>
<rect x="520.5" y="361.5" width="17" height="5" rx="0" stroke="#ffffff" stroke-width="1" fill="none"/>
<line x1="519" y1="368.5" x2="538.5" y2="368.5" stroke="#ffffff" stroke-width="1"/>
<polyline points="523.5,369.8 523.5,420.5 534.5,420.5 534.5,369.8" stroke="#ffffff" stroke-width="1" fill="none"/>
<line x1="525.5" y1="400" x2="525.5" y2="420.7" stroke="#ffffff" stroke-width="1"/>
<line x1="532.5" y1="400" x2="532.5" y2="420.7" stroke="#ffffff" stroke-width="1"/>
<line x1="523.4" y1="400.5" x2="534" y2="400.5" stroke="#ffffff" stroke-width="1"/>
<line x1="524" y1="362" x2="528.6" y2="367" stroke="#ff00ff" stroke-width="1"/>
<line x1="533" y1="362" x2="528.6" y2="367" stroke="#ff00ff" stroke-width="1"/>
<line x1="519" y1="368.5" x2="522" y2="368.5" stroke="#00ffff" stroke-width="1"/>
<line x1="536" y1="368.5" x2="539" y2="368.5" stroke="#00ffff" stroke-width="1"/>
<line x1="528.5" y1="355.5" x2="528.5" y2="431.5" stroke="#ff0000" stroke-width="1" stroke-dasharray="14 3 3 3"/>
<rect x="702.5" y="479.5" width="9" height="9" rx="0" stroke="#ffffff" stroke-width="1" fill="none"/>
<line x1="706.5" y1="433.7" x2="706.5" y2="479.2" stroke="#ffffff" stroke-width="1"/>
<line x1="711.8" y1="484.5" x2="756.8" y2="484.5" stroke="#ffffff" stroke-width="1"/>
<line x1="761" y1="470" x2="773.8" y2="482.8" stroke="#ffffff" stroke-width="1"/>
<line x1="761" y1="482.8" x2="773.8" y2="470" stroke="#ffffff" stroke-width="1"/>
<rect x="847.5" y="104.5" width="113" height="160" rx="7" stroke="#ffffff" stroke-width="1" fill="none"/>
<line x1="853" y1="104.5" x2="993.7" y2="104.5" stroke="#ffffff" stroke-width="1"/>
<line x1="955" y1="264.5" x2="994" y2="264.5" stroke="#ffffff" stroke-width="1"/>
<polygon points="875.5,124.3 872.7,129.5 867.5,132.5 861.5,132.5 856.3,129.5 853.5,124.3 853.5,118.3 856.3,113.1 861.5,110.5 867.5,110.5 872.7,113.1 875.5,118.3" stroke="#ffffff" stroke-width="1" fill="none"/>
<circle cx="864.5" cy="121.3" r="8.7" stroke="#ffffff" stroke-width="1" fill="none"/>
<polygon points="863.5,114.5 865.5,114.5 865.5,119.5 871.5,119.5 871.5,122.5 865.5,122.5 865.5,127.5 863.5,127.5 863.5,122.5 858.5,122.5 858.5,119.5 863.5,119.5" stroke="#ffffff" stroke-width="1" fill="none"/>
<line x1="864.5" y1="104.3" x2="864.5" y2="139.3" stroke="#ffffff" stroke-width="1"/>
<line x1="847.5" y1="121.5" x2="881.5" y2="121.5" stroke="#ffffff" stroke-width="1"/>
<polygon points="953.5,124.3 950.4,129.5 945.2,132.5 939.2,132.5 934,129.5 930.5,124.3 930.5,118.3 934,113.1 939.2,110.5 945.2,110.5 950.4,113.1 953.5,118.3" stroke="#ffffff" stroke-width="1" fill="none"/>
<circle cx="942.2" cy="121.3" r="8.7" stroke="#ffffff" stroke-width="1" fill="none"/>
<polygon points="940.5,114.5 943.5,114.5 943.5,119.5 948.5,119.5 948.5,122.5 943.5,122.5 943.5,127.5 940.5,127.5 940.5,122.5 935.5,122.5 935.5,119.5 940.5,119.5" stroke="#ffffff" stroke-width="1" fill="none"/>
<line x1="942.5" y1="104.3" x2="942.5" y2="139.3" stroke="#ffffff" stroke-width="1"/>
<line x1="925.2" y1="121.5" x2="959.2" y2="121.5" stroke="#ffffff" stroke-width="1"/>
<polygon points="875.5,250 872.7,255.2 867.5,258.5 861.5,258.5 856.3,255.2 853.5,250 853.5,244 856.3,238.8 861.5,235.5 867.5,235.5 872.7,238.8 875.5,244" stroke="#ffffff" stroke-width="1" fill="none"/>
<circle cx="864.5" cy="247" r="8.7" stroke="#ffffff" stroke-width="1" fill="none"/>
<polygon points="863.5,240.5 865.5,240.5 865.5,245.5 871.5,245.5 871.5,248.5 865.5,248.5 865.5,253.5 863.5,253.5 863.5,248.5 858.5,248.5 858.5,245.5 863.5,245.5" stroke="#ffffff" stroke-width="1" fill="none"/>
<line x1="864.5" y1="230" x2="864.5" y2="265" stroke="#ffffff" stroke-width="1"/>
<line x1="847.5" y1="247.5" x2="881.5" y2="247.5" stroke="#ffffff" stroke-width="1"/>
<polygon points="953.5,250 950.4,255.2 945.2,258.5 939.2,258.5 934,255.2 930.5,250 930.5,244 934,238.8 939.2,235.5 945.2,235.5 950.4,238.8 953.5,244" stroke="#ffffff" stroke-width="1" fill="none"/>
<circle cx="942.2" cy="247" r="8.7" stroke="#ffffff" stroke-width="1" fill="none"/>
<polygon points="940.5,240.5 943.5,240.5 943.5,245.5 948.5,245.5 948.5,248.5 943.5,248.5 943.5,253.5 940.5,253.5 940.5,248.5 935.5,248.5 935.5,245.5 940.5,245.5" stroke="#ffffff" stroke-width="1" fill="none"/>
<line x1="942.5" y1="230" x2="942.5" y2="265" stroke="#ffffff" stroke-width="1"/>
<line x1="925.2" y1="247.5" x2="959.2" y2="247.5" stroke="#ffffff" stroke-width="1"/>
<line x1="850.5" y1="121.5" x2="878.5" y2="121.5" stroke="#ff0000" stroke-width="1"/>
<line x1="864.5" y1="104.3" x2="864.5" y2="138.3" stroke="#ff0000" stroke-width="1"/>
<line x1="928.2" y1="121.5" x2="956.2" y2="121.5" stroke="#ff0000" stroke-width="1"/>
<line x1="942.5" y1="104.3" x2="942.5" y2="138.3" stroke="#ff0000" stroke-width="1"/>
<line x1="850.5" y1="247.5" x2="878.5" y2="247.5" stroke="#ff0000" stroke-width="1"/>
<line x1="864.5" y1="232" x2="864.5" y2="262" stroke="#ff0000" stroke-width="1"/>
<line x1="928.2" y1="247.5" x2="956.2" y2="247.5" stroke="#ff0000" stroke-width="1"/>
<line x1="942.5" y1="230" x2="942.5" y2="264" stroke="#ff0000" stroke-width="1"/>
<line x1="942.5" y1="138" x2="942.5" y2="146" stroke="#ff0000" stroke-width="1"/>
<line x1="942.2" y1="135.3" x2="950.2" y2="121.3" stroke="#ff0000" stroke-width="0"/>
<line x1="903.5" y1="93.7" x2="903.5" y2="275.6" stroke="#ff0000" stroke-width="1" stroke-dasharray="26 3 5 3"/>
<ellipse cx="903.3" cy="147.5" rx="7.2" ry="6.8" stroke="#ffffff" stroke-width="1" fill="none"/>
<ellipse cx="903.3" cy="147.5" rx="6.6" ry="4.2" stroke="#ffffff" stroke-width="1" fill="none"/>
<line x1="881.1" y1="147.5" x2="925.6" y2="147.5" stroke="#ff0000" stroke-width="1"/>
<line x1="836.4" y1="147.5" x2="881.1" y2="147.5" stroke="#ffffff" stroke-width="1"/>
<circle cx="864.1" cy="175.5" r="4.9" stroke="#ffffff" stroke-width="1" fill="none"/>
<line x1="843.1" y1="175.5" x2="885.1" y2="175.5" stroke="#ff0000" stroke-width="1"/>
<line x1="864.5" y1="175.5" x2="864.5" y2="175.5" stroke="#ff0000" stroke-width="1"/>
<line x1="864.5" y1="158" x2="864.5" y2="197" stroke="#ff0000" stroke-width="1"/>
<circle cx="942.6" cy="175.5" r="5.5" stroke="#ffffff" stroke-width="1" fill="none"/>
<line x1="929.6" y1="175.5" x2="955.6" y2="175.5" stroke="#ff0000" stroke-width="1"/>
<line x1="942.5" y1="175.5" x2="942.5" y2="175.5" stroke="#ff0000" stroke-width="1"/>
<line x1="942.5" y1="158" x2="942.5" y2="190" stroke="#ff0000" stroke-width="1"/>
<line x1="888.5" y1="184.5" x2="964.8" y2="184.5" stroke="#ff0000" stroke-width="1" stroke-dasharray="22 3 5 3"/>
<line x1="839.6" y1="184.5" x2="887.8" y2="184.5" stroke="#ffffff" stroke-width="1"/>
<circle cx="903.3" cy="230.7" r="17.1" stroke="#ffffff" stroke-width="1" fill="none"/>
<line x1="859.2" y1="230.5" x2="932.7" y2="230.5" stroke="#ff0000" stroke-width="1" stroke-dasharray="30 3 5 3"/>
<line x1="836.7" y1="230.5" x2="859.2" y2="230.5" stroke="#ffffff" stroke-width="1"/>
<line x1="866" y1="111.5" x2="940.4" y2="111.5" stroke="#00ff00" stroke-width="1"/>
<text transform="translate(903 110)" font-size="5" fill="#00ff00" text-anchor="middle" font-weight="bold" font-family='"Liberation Sans", "Noto Sans CJK SC", sans-serif'>60</text>
<line x1="847.5" y1="257.2" x2="847.5" y2="294.8" stroke="#00ff00" stroke-width="1"/>
<line x1="960.5" y1="257.2" x2="960.5" y2="294.8" stroke="#00ff00" stroke-width="1"/>
<line x1="847.3" y1="293.5" x2="960.5" y2="293.5" stroke="#00ff00" stroke-width="1"/>
<text transform="translate(902.5 292)" font-size="5" fill="#00ff00" text-anchor="middle" font-weight="bold" font-family='"Liberation Sans", "Noto Sans CJK SC", sans-serif'>60</text>
<rect x="849" y="292.2" width="2.5" height="2" rx="0" stroke="#00ff00" stroke-width="0.5" fill="#00ff00"/>
<rect x="957" y="292.2" width="2.8" height="2" rx="0" stroke="#00ff00" stroke-width="0.5" fill="#00ff00"/>
<line x1="840.4" y1="81.1" x2="855.2" y2="113.7" stroke="#ffff00" stroke-width="1"/>
<polygon points="841.9,84.1 848.5,81.9 852.2,92.2 846.3,93.7" stroke="#ffff00" stroke-width="1" fill="#ffff00"/>
<text transform="translate(903 92.5) scale(0.8 1)" font-size="8" fill="#ffffff" text-anchor="middle" font-weight="bold" font-family='"Liberation Serif", "Noto Serif CJK SC", serif'>A 向</text>
<line x1="979.5" y1="93.7" x2="979.5" y2="131.5" stroke="#ffffff" stroke-width="1"/>
<line x1="926.3" y1="120.5" x2="982.6" y2="120.5" stroke="#ffffff" stroke-width="1"/>
<text transform="translate(977.5 113.7) rotate(-90) scale(0.75 1)" font-size="8.5" fill="#ffffff" text-anchor="middle" font-weight="bold" font-family='"Liberation Serif", "Noto Serif CJK SC", serif'>10</text>
<line x1="989.5" y1="104.4" x2="989.5" y2="264.4" stroke="#ffffff" stroke-width="1"/>
<text transform="translate(988 186) rotate(-90) scale(0.75 1)" font-size="8.5" fill="#ffffff" text-anchor="middle" font-weight="bold" font-family='"Liberation Serif", "Noto Serif CJK SC", serif'>94</text>
<rect x="988.7" y="106" width="2" height="4" rx="0" stroke="#ffffff" stroke-width="0.5" fill="#ffffff"/>
<rect x="988.7" y="257.5" width="2" height="4" rx="0" stroke="#ffffff" stroke-width="0.5" fill="#ffffff"/>
<line x1="824.5" y1="121.4" x2="824.5" y2="247" stroke="#ffffff" stroke-width="1"/>
<line x1="820" y1="121.5" x2="850" y2="121.5" stroke="#ffffff" stroke-width="1"/>
<line x1="820.4" y1="247.5" x2="852" y2="247.5" stroke="#ffffff" stroke-width="1"/>
<text transform="translate(822.5 186) rotate(-90) scale(0.75 1)" font-size="8.5" fill="#ffffff" text-anchor="middle" font-weight="bold" font-family='"Liberation Serif", "Noto Serif CJK SC", serif'>74</text>
<rect x="823.4" y="123" width="2" height="4" rx="0" stroke="#ffffff" stroke-width="0.5" fill="#ffffff"/>
<rect x="823.4" y="241" width="2" height="4" rx="0" stroke="#ffffff" stroke-width="0.5" fill="#ffffff"/>
<line x1="839.5" y1="147.5" x2="839.5" y2="230.7" stroke="#ffffff" stroke-width="1"/>
<text transform="translate(837.5 190) rotate(-90) scale(0.75 1)" font-size="8.5" fill="#ffffff" text-anchor="middle" font-weight="bold" font-family='"Liberation Serif", "Noto Serif CJK SC", serif'>48±0.02</text>
<rect x="838.3" y="150" width="2" height="4" rx="0" stroke="#ffffff" stroke-width="0.5" fill="#ffffff"/>
<rect x="838.3" y="224" width="2" height="4" rx="0" stroke="#ffffff" stroke-width="0.5" fill="#ffffff"/>
<line x1="884.5" y1="158.9" x2="884.5" y2="195" stroke="#ffffff" stroke-width="1"/>
<text transform="translate(879.6 163.5) rotate(-90) scale(0.75 1)" font-size="8.5" fill="#ffffff" text-anchor="middle" font-weight="bold" font-family='"Liberation Serif", "Noto Serif CJK SC", serif'>5</text>
<line x1="876" y1="175.5" x2="888" y2="175.5" stroke="#ffffff" stroke-width="1"/>
<rect x="883.5" y="168" width="2" height="4" rx="0" stroke="#ffffff" stroke-width="0.5" fill="#ffffff"/>
<rect x="883.5" y="187.5" width="2" height="4" rx="0" stroke="#ffffff" stroke-width="0.5" fill="#ffffff"/>
<path d="M1039.5 279.7 L1039.5 90.5 L1281.5 90.5 L1281.5 283.8 Q1160 291 1039.5 279.7" stroke="#ffffff" stroke-width="1" fill="none"/>
<line x1="1160.5" y1="81.2" x2="1160.5" y2="270.7" stroke="#ffffff" stroke-width="1" stroke-dasharray="22 3 4 3"/>
<circle cx="1160.4" cy="177.5" r="78.7" stroke="#ffffff" stroke-width="1" fill="none"/>
<circle cx="1160.4" cy="177.5" r="44.2" stroke="#ffffff" stroke-width="1" fill="none"/>
<circle cx="1160.4" cy="177.5" r="30.4" stroke="#ffffff" stroke-width="1" fill="none"/>
<circle cx="1160.4" cy="177.5" r="24.5" stroke="#ffffff" stroke-width="1" fill="none"/>
<path clip-path="url(#h32)" d="M1095.18 175.91 L1158.81 112.28 M1098.15 178.88 L1161.78 115.25 M1101.12 181.85 L1164.75 118.22 M1104.09 184.82 L1167.72 121.19 M1107.06 187.79 L1170.69 124.16 M1110.03 190.76 L1173.66 127.13 M1113 193.73 L1176.63 130.1 M1115.97 196.7 L1179.6 133.07 M1118.94 199.67 L1182.57 136.04 M1121.91 202.64 L1185.54 139.01 M1124.88 205.61 L1188.51 141.98 M1127.85 208.58 L1191.48 144.95 M1130.82 211.55 L1194.45 147.92 M1133.79 214.52 L1197.42 150.89 M1136.76 217.49 L1200.39 153.86 M1139.73 220.46 L1203.36 156.83 M1142.7 223.43 L1206.33 159.8 M1145.67 226.4 L1209.3 162.77 M1148.64 229.37 L1212.27 165.74 M1151.61 232.34 L1215.24 168.71 M1154.58 235.31 L1218.21 171.68 M1157.55 238.28 L1221.18 174.65 M1160.52 241.25 L1224.15 177.62" stroke="#ffffff" stroke-width="1" fill="none"/>
<polygon points="1175.6,177.5 1168,190.66 1152.8,190.66 1145.2,177.5 1152.8,164.5 1168,164.5" stroke="#ffffff" stroke-width="1" fill="none"/>
<polygon points="1172.9,177.5 1166.65,188.5 1154.15,188.5 1147.9,177.5 1154.15,166.5 1166.65,166.5" stroke="#ffffff" stroke-width="1" fill="none"/>
<circle cx="1160.4" cy="177.5" r="11" stroke="#ffffff" stroke-width="1" fill="none"/>
<circle cx="1160.4" cy="177.5" r="5.9" stroke="#ffffff" stroke-width="1" fill="none"/>
<line x1="1139.9" y1="177.5" x2="1180.9" y2="177.5" stroke="#ff0000" stroke-width="1" stroke-dasharray="14 3 4 3"/>
<polygon points="1160.4,126.9 1152.5,122.2 1152.5,112.8 1160.4,108.1 1168.5,112.8 1168.5,122.2" stroke="#ffffff" stroke-width="1" fill="none"/>
<circle cx="1160.4" cy="117.5" r="8.2" stroke="#ffffff" stroke-width="1" fill="none"/>
<polygon points="1160.4,246.2 1152.5,241.5 1152.5,232.1 1160.4,227.4 1168.5,232.1 1168.5,241.5" stroke="#ffffff" stroke-width="1" fill="none"/>
<circle cx="1160.4" cy="236.8" r="8.2" stroke="#ffffff" stroke-width="1" fill="none"/>
<polygon points="1101.5,186.9 1093.5,182.2 1093.5,172.8 1101.5,168.1 1109.5,172.8 1109.5,182.2" stroke="#ffffff" stroke-width="1" fill="none"/>
<circle cx="1101.5" cy="177.5" r="8.2" stroke="#ffffff" stroke-width="1" fill="none"/>
<polygon points="1220.4,186.9 1212.5,182.2 1212.5,172.8 1220.4,168.1 1228.5,172.8 1228.5,182.2" stroke="#ffffff" stroke-width="1" fill="none"/>
<circle cx="1220.4" cy="177.5" r="8.2" stroke="#ffffff" stroke-width="1" fill="none"/>
<line x1="1148" y1="117.5" x2="1172.8" y2="117.5" stroke="#ff0000" stroke-width="1"/>
<line x1="1148" y1="236.5" x2="1172.8" y2="236.5" stroke="#ff0000" stroke-width="1"/>
<line x1="1089.1" y1="177.5" x2="1113.9" y2="177.5" stroke="#ff0000" stroke-width="1"/>
<line x1="1101.5" y1="163" x2="1101.5" y2="192" stroke="#ff0000" stroke-width="1"/>
<line x1="1208" y1="177.5" x2="1232.8" y2="177.5" stroke="#ff0000" stroke-width="1"/>
<line x1="1220.5" y1="163" x2="1220.5" y2="192" stroke="#ff0000" stroke-width="1"/>
<line x1="1160.5" y1="125" x2="1160.5" y2="127.5" stroke="#ff0000" stroke-width="1"/>
<line x1="1160.5" y1="225" x2="1160.5" y2="228" stroke="#ff0000" stroke-width="1"/>
<circle cx="1160.4" cy="140.3" r="3" stroke="#ffffff" stroke-width="1" fill="none"/>
<circle cx="1160.4" cy="213.6" r="3" stroke="#ffffff" stroke-width="1" fill="none"/>
<circle cx="1123.7" cy="177.5" r="3.2" stroke="#ffffff" stroke-width="1" fill="none"/>
<circle cx="1197.3" cy="177.5" r="3.2" stroke="#ffffff" stroke-width="1" fill="none"/>
<text transform="translate(1158.5 74.3) scale(0.95 1)" font-size="6.5" fill="#ffffff" text-anchor="middle" font-weight="bold" font-family='"Liberation Sans", "Noto Sans CJK SC", sans-serif'>B-B</text>
<line x1="1197" y1="67" x2="1201.8" y2="74.1" stroke="#007000" stroke-width="1"/>
<path d="M109.5 597.5 Q103.5 597.5 103.5 604 L103.5 627.5 L130.5 627.5 A12 12 0 0 1 130.5 651.5 L103.5 651.5 L103.5 781.5 L130.5 781.5 A12 12 0 0 1 130.5 805.5 L103.5 805.5 L103.5 832 Q103.5 838.5 109.5 838.5" stroke="#ffffff" stroke-width="1" fill="none"/>
<line x1="109.5" y1="597.5" x2="811.8" y2="597.5" stroke="#ffffff" stroke-width="1"/>
<line x1="109.5" y1="838.5" x2="811.8" y2="838.5" stroke="#ffffff" stroke-width="1"/>
<path d="M103.5 618.5 L132.5 618.5 A20.5 21 0 0 1 132.5 660.5 L103.5 660.5" stroke="#ffffff" stroke-width="1" fill="none"/>
<line x1="131.5" y1="612.5" x2="131.5" y2="666.5" stroke="#ffffff" stroke-width="1"/>
<line x1="78" y1="639.5" x2="159.5" y2="639.5" stroke="#ffffff" stroke-width="1" stroke-dasharray="30 3 4 3"/>
<path d="M103.5 772.5 L132.5 772.5 A20.5 21 0 0 1 132.5 814.5 L103.5 814.5" stroke="#ffffff" stroke-width="1" fill="none"/>
<line x1="131.5" y1="766.5" x2="131.5" y2="820.5" stroke="#ffffff" stroke-width="1"/>
<line x1="78" y1="793.5" x2="159.5" y2="793.5" stroke="#ffffff" stroke-width="1" stroke-dasharray="30 3 4 3"/>
<line x1="92" y1="618.5" x2="103.5" y2="618.5" stroke="#ffffff" stroke-width="1"/>
<line x1="92" y1="660.5" x2="103.5" y2="660.5" stroke="#ffffff" stroke-width="1"/>
<line x1="95.5" y1="596" x2="95.5" y2="672" stroke="#ffffff" stroke-width="1"/>
<text transform="translate(90 604) scale(0.75 1)" font-size="8.5" fill="#ffffff" text-anchor="middle" font-weight="bold" font-family='"Liberation Serif", "Noto Serif CJK SC", serif'>20</text>
<line x1="118.5" y1="627.5" x2="118.5" y2="651.5" stroke="#ffffff" stroke-width="1"/>
<text transform="translate(115.5 641) rotate(-90) scale(0.75 1)" font-size="8.5" fill="#ffffff" text-anchor="middle" font-weight="bold" font-family='"Liberation Serif", "Noto Serif CJK SC", serif'>14</text>
<rect x="117.5" y="629.5" width="2" height="4" rx="0" stroke="#ffffff" stroke-width="0.5" fill="#ffffff"/>
<rect x="117.5" y="646" width="2" height="4" rx="0" stroke="#ffffff" stroke-width="0.5" fill="#ffffff"/>
<line x1="82.5" y1="639.5" x2="82.5" y2="793.5" stroke="#ffffff" stroke-width="1"/>
<text transform="translate(80.5 718) rotate(-90) scale(0.75 1)" font-size="8.5" fill="#ffffff" text-anchor="middle" font-weight="bold" font-family='"Liberation Serif", "Noto Serif CJK SC", serif'>80</text>
<rect x="81.4" y="641.5" width="2" height="5" rx="0" stroke="#ffffff" stroke-width="0.5" fill="#ffffff"/>
<rect x="81.4" y="786.5" width="2" height="5" rx="0" stroke="#ffffff" stroke-width="0.5" fill="#ffffff"/>
<line x1="159.5" y1="597.5" x2="159.5" y2="838.5" stroke="#ffffff" stroke-width="1"/>
<line x1="159.5" y1="578.4" x2="159.5" y2="601" stroke="#ff00ff" stroke-width="1"/>
<line x1="159.5" y1="780" x2="159.5" y2="844" stroke="#ff00ff" stroke-width="1"/>
<line x1="202.5" y1="597.5" x2="202.5" y2="838.5" stroke="#ffffff" stroke-width="1"/>
<line x1="306.5" y1="597.5" x2="306.5" y2="653.1" stroke="#ffffff" stroke-width="1"/>
<line x1="306.5" y1="766.2" x2="306.5" y2="838.5" stroke="#ffffff" stroke-width="1"/>
<line x1="432.5" y1="597.5" x2="432.5" y2="699.6" stroke="#ffffff" stroke-width="1" stroke-dasharray="36 3 4 3"/>
<line x1="202.6" y1="653.5" x2="436" y2="653.5" stroke="#ffffff" stroke-width="1"/>
<line x1="202.6" y1="766.5" x2="436" y2="766.5" stroke="#ffffff" stroke-width="1"/>
<path d="M166 597.5 Q159.5 597.5 159.5 603.5" stroke="#ffffff" stroke-width="1" fill="none"/>
<path d="M159.5 701 Q159.5 707.4 166 707.4 L202.6 707.4" stroke="#ffffff" stroke-width="1" fill="none"/>
<path d="M202.6 727.4 L166 727.4 Q159.5 727.4 159.5 733.5" stroke="#ffffff" stroke-width="1" fill="none"/>
<path d="M159.5 832 Q159.5 838.5 166 838.5" stroke="#ffffff" stroke-width="1" fill="none"/>
<line x1="159.5" y1="578.5" x2="393.4" y2="578.5" stroke="#ff00ff" stroke-width="1"/>
<text transform="translate(276 576.5) scale(1.1 1)" font-size="5" fill="#ff00ff" text-anchor="middle" font-weight="normal" font-family='"Liberation Sans", "Noto Sans CJK SC", sans-serif'>138.5</text>
<line x1="393.5" y1="565" x2="393.5" y2="844" stroke="#ff0000" stroke-width="1" stroke-dasharray="34 3 5 3"/>
<line x1="81" y1="525.5" x2="98" y2="525.5" stroke="#ffffff" stroke-width="1"/>
<line x1="98" y1="525.3" x2="224.2" y2="635.7" stroke="#ffffff" stroke-width="1"/>
<text transform="translate(89.5 524) scale(0.7 1)" font-size="12" fill="#ffffff" text-anchor="middle" font-weight="bold" font-family='"Liberation Serif", "Noto Serif CJK SC", serif'>1</text>
<rect x="223.4" y="634.9" width="1.6" height="1.6" rx="0" stroke="#ffffff" stroke-width="1" fill="#ffffff"/>
<circle cx="229.6" cy="674.2" r="15.6" stroke="#ffffff" stroke-width="1" fill="none"/>
<circle cx="229.6" cy="674.2" r="12.6" stroke="#ffffff" stroke-width="1" fill="none"/>
<polygon points="235.6,674.2 232.6,679.5 226.6,679.5 223.6,674.2 226.6,669.5 232.6,669.5" stroke="#ffffff" stroke-width="1" fill="none"/>
<circle cx="283.3" cy="674.2" r="15.6" stroke="#ffffff" stroke-width="1" fill="none"/>
<circle cx="283.3" cy="674.2" r="12.6" stroke="#ffffff" stroke-width="1" fill="none"/>
<polygon points="289.3,674.2 286.3,679.5 280.3,679.5 277.3,674.2 280.3,669.5 286.3,669.5" stroke="#ffffff" stroke-width="1" fill="none"/>
<circle cx="254.5" cy="674.2" r="5" stroke="#ffffff" stroke-width="1" fill="none"/>
<circle cx="254.5" cy="674.2" r="2.4" stroke="#ffffff" stroke-width="1" fill="none"/>
<line x1="209.2" y1="674.5" x2="322" y2="674.5" stroke="#ff0000" stroke-width="1"/>
<line x1="326" y1="674.5" x2="332" y2="674.5" stroke="#ff0000" stroke-width="1"/>
<line x1="336" y1="674.5" x2="350" y2="674.5" stroke="#ff0000" stroke-width="1"/>
<line x1="254.5" y1="662.2" x2="254.5" y2="686.2" stroke="#ff0000" stroke-width="1"/>
<circle cx="229.6" cy="745.4" r="15.6" stroke="#ffffff" stroke-width="1" fill="none"/>
<circle cx="229.6" cy="745.4" r="12.6" stroke="#ffffff" stroke-width="1" fill="none"/>
<polygon points="235.6,745.4 232.6,750.5 226.6,750.5 223.6,745.4 226.6,740.5 232.6,740.5" stroke="#ffffff" stroke-width="1" fill="none"/>
<circle cx="283.3" cy="745.4" r="15.6" stroke="#ffffff" stroke-width="1" fill="none"/>
<circle cx="283.3" cy="745.4" r="12.6" stroke="#ffffff" stroke-width="1" fill="none"/>
<polygon points="289.3,745.4 286.3,750.5 280.3,750.5 277.3,745.4 280.3,740.5 286.3,740.5" stroke="#ffffff" stroke-width="1" fill="none"/>
<circle cx="254.5" cy="745.4" r="5" stroke="#ffffff" stroke-width="1" fill="none"/>
<circle cx="254.5" cy="745.4" r="2.4" stroke="#ffffff" stroke-width="1" fill="none"/>
<line x1="209.2" y1="745.5" x2="322" y2="745.5" stroke="#ff0000" stroke-width="1"/>
<line x1="326" y1="745.5" x2="332" y2="745.5" stroke="#ff0000" stroke-width="1"/>
<line x1="336" y1="745.5" x2="350" y2="745.5" stroke="#ff0000" stroke-width="1"/>
<line x1="254.5" y1="733.4" x2="254.5" y2="757.4" stroke="#ff0000" stroke-width="1"/>
<line x1="229.5" y1="654" x2="229.5" y2="694.6" stroke="#ff0000" stroke-width="1"/>
<line x1="283.5" y1="654" x2="283.5" y2="694.6" stroke="#ff0000" stroke-width="1"/>
<line x1="229.5" y1="717" x2="229.5" y2="766" stroke="#ff0000" stroke-width="1"/>
<line x1="283.5" y1="722" x2="283.5" y2="766" stroke="#ff0000" stroke-width="1"/>
<circle cx="409.3" cy="709" r="53.7" stroke="#ffffff" stroke-width="1" fill="none"/>
<path d="M435.6 653.3 A55.5 55.7 0 0 1 435.6 764.7" stroke="#ffffff" stroke-width="1" fill="none"/>
<line x1="436" y1="764.7" x2="409" y2="764.7" stroke="#ffffff" stroke-width="0"/>
<line x1="341.5" y1="682.5" x2="478.8" y2="682.5" stroke="#00ff00" stroke-width="1" stroke-dasharray="22 3 4 3"/>
<line x1="341.5" y1="737.5" x2="478.8" y2="737.5" stroke="#00ff00" stroke-width="1" stroke-dasharray="22 3 4 3"/>
<line x1="341.5" y1="682.1" x2="341.5" y2="737.4" stroke="#00ff00" stroke-width="1" stroke-dasharray="18 3 3 3"/>
<line x1="478.5" y1="682.1" x2="478.5" y2="737.4" stroke="#00ff00" stroke-width="1"/>
<polyline points="341.5,706.5 332.5,706.5 332.5,740.5 487.5,740.5 487.5,706.5 478.8,706.5" stroke="#00ff00" stroke-width="1" fill="none"/>
<line x1="346.5" y1="737.4" x2="346.5" y2="740.4" stroke="#00ff00" stroke-width="1"/>
<line x1="472.5" y1="737.4" x2="472.5" y2="740.4" stroke="#00ff00" stroke-width="1"/>
<line x1="384.5" y1="682.1" x2="384.5" y2="737.4" stroke="#00ff00" stroke-width="1"/>
<line x1="435.5" y1="682.1" x2="435.5" y2="737.4" stroke="#00ff00" stroke-width="1"/>
<line x1="384.4" y1="692.5" x2="435.6" y2="692.5" stroke="#00ff00" stroke-width="1"/>
<line x1="384.4" y1="727.5" x2="435.6" y2="727.5" stroke="#00ff00" stroke-width="1"/>
<line x1="402.5" y1="692.5" x2="402.5" y2="727.3" stroke="#00ff00" stroke-width="1"/>
<line x1="416.5" y1="692.5" x2="416.5" y2="727.3" stroke="#00ff00" stroke-width="1"/>
<line x1="478.5" y1="692.2" x2="478.5" y2="727.8" stroke="#ffff00" stroke-width="1"/>
<line x1="409.5" y1="682" x2="409.5" y2="733.7" stroke="#ff0000" stroke-width="1"/>
<polygon points="404.5,712.65 401.38,717.58 396.45,720.5 390.75,720.5 385.82,717.58 382.5,712.65 382.5,706.95 385.82,702.02 390.75,699.5 396.45,699.5 401.38,702.02 404.5,706.95" stroke="#ffffff" stroke-width="1" fill="none"/>
<polygon points="403.1,709.8 401.83,714.55 398.35,718.03 393.6,719.3 388.85,718.03 385.37,714.55 384.1,709.8 385.37,705.05 388.85,701.57 393.6,700.3 398.35,701.57 401.83,705.05" stroke="#ffffff" stroke-width="1" fill="none"/>
<circle cx="393.6" cy="709.8" r="7.3" stroke="#ffffff" stroke-width="1" fill="none"/>
<circle cx="393.6" cy="709.8" r="3.8" stroke="#ffffff" stroke-width="1" fill="none"/>
<polygon points="396.2,709.8 394.9,712.5 392.3,712.5 391,709.8 392.3,707.5 394.9,707.5" stroke="#ffffff" stroke-width="1" fill="none"/>
<polygon points="436.5,712.65 433.98,717.58 429.05,720.5 423.35,720.5 418.42,717.58 415.5,712.65 415.5,706.95 418.42,702.02 423.35,699.5 429.05,699.5 433.98,702.02 436.5,706.95" stroke="#ffffff" stroke-width="1" fill="none"/>
<polygon points="435.7,709.8 434.43,714.55 430.95,718.03 426.2,719.3 421.45,718.03 417.97,714.55 416.7,709.8 417.97,705.05 421.45,701.57 426.2,700.3 430.95,701.57 434.43,705.05" stroke="#ffffff" stroke-width="1" fill="none"/>
<circle cx="426.2" cy="709.8" r="7.3" stroke="#ffffff" stroke-width="1" fill="none"/>
<circle cx="426.2" cy="709.8" r="3.8" stroke="#ffffff" stroke-width="1" fill="none"/>
<polygon points="428.8,709.8 427.5,712.5 424.9,712.5 423.6,709.8 424.9,707.5 427.5,707.5" stroke="#ffffff" stroke-width="1" fill="none"/>
<line x1="426.5" y1="694" x2="426.5" y2="732" stroke="#ff0000" stroke-width="1" stroke-dasharray="8 3"/>
<polygon points="379.5,718.65 369.3,724.8 358.5,718.65 358.5,706.35 369.3,700.2 379.5,706.35" stroke="#ffffff" stroke-width="1" fill="none"/>
<path d="M366.3 700.5 A12.3 12.3 0 0 1 366.3 724.5" stroke="#ffffff" stroke-width="1" fill="none"/>
<line x1="366.5" y1="700.5" x2="366.5" y2="724.5" stroke="#ffffff" stroke-width="1"/>
<line x1="372.5" y1="700.5" x2="372.5" y2="724.5" stroke="#ffffff" stroke-width="1"/>
<polygon points="460.5,718.65 449.6,724.8 438.5,718.65 438.5,706.35 449.6,700.2 460.5,706.35" stroke="#ffffff" stroke-width="1" fill="none"/>
<path d="M446.6 700.5 A12.3 12.3 0 0 1 446.6 724.5" stroke="#ffffff" stroke-width="1" fill="none"/>
<line x1="446.5" y1="700.5" x2="446.5" y2="724.5" stroke="#ffffff" stroke-width="1"/>
<line x1="452.5" y1="700.5" x2="452.5" y2="724.5" stroke="#ffffff" stroke-width="1"/>
<line x1="349" y1="712.5" x2="383" y2="712.5" stroke="#ff0000" stroke-width="1"/>
<line x1="369.5" y1="694" x2="369.5" y2="732" stroke="#ff0000" stroke-width="1"/>
<line x1="441" y1="712.5" x2="468" y2="712.5" stroke="#ff0000" stroke-width="1"/>
<line x1="449.5" y1="691" x2="449.5" y2="733" stroke="#ff0000" stroke-width="1"/>
<rect x="483.5" y="685.5" width="17" height="49" rx="0" stroke="#ffffff" stroke-width="1" fill="none"/>
<line x1="500" y1="700.5" x2="550.6" y2="700.5" stroke="#ffffff" stroke-width="1"/>
<line x1="500" y1="719.5" x2="550.6" y2="719.5" stroke="#ffffff" stroke-width="1"/>
<line x1="502.5" y1="597.5" x2="502.5" y2="699.6" stroke="#ffffff" stroke-width="1"/>
<line x1="502.5" y1="719.6" x2="502.5" y2="838.5" stroke="#ffffff" stroke-width="1"/>
<line x1="550.5" y1="597.5" x2="550.5" y2="838.5" stroke="#ffffff" stroke-width="1"/>
<line x1="574.5" y1="597.5" x2="574.5" y2="838.5" stroke="#ffffff" stroke-width="1"/>
<circle cx="528.4" cy="639.7" r="14.6" stroke="#ffffff" stroke-width="1" fill="none"/>
<circle cx="528.4" cy="639.7" r="10.6" stroke="#ffffff" stroke-width="1" fill="none"/>
<circle cx="528.4" cy="639.7" r="8" stroke="#ffffff" stroke-width="1" fill="none"/>
<line x1="502.8" y1="639.5" x2="550.6" y2="639.5" stroke="#ffffff" stroke-width="1"/>
<line x1="528.5" y1="615.2" x2="528.5" y2="668.7" stroke="#ffffff" stroke-width="1"/>
<line x1="520.4" y1="639.5" x2="536.4" y2="639.5" stroke="#ffffff" stroke-width="1"/>
<line x1="521.47" y1="635.7" x2="535.33" y2="643.7" stroke="#ffffff" stroke-width="1"/>
<line x1="524.4" y1="632.77" x2="532.4" y2="646.63" stroke="#ffffff" stroke-width="1"/>
<line x1="528.5" y1="631.7" x2="528.5" y2="647.7" stroke="#ffffff" stroke-width="1"/>
<line x1="532.4" y1="632.77" x2="524.4" y2="646.63" stroke="#ffffff" stroke-width="1"/>
<line x1="535.33" y1="635.7" x2="521.47" y2="643.7" stroke="#ffffff" stroke-width="1"/>
<line x1="522.4" y1="639.5" x2="534.4" y2="639.5" stroke="#ff0000" stroke-width="1"/>
<line x1="528.5" y1="633.7" x2="528.5" y2="645.7" stroke="#ff0000" stroke-width="1"/>
<line x1="528.5" y1="625.7" x2="528.5" y2="628.7" stroke="#ff0000" stroke-width="1"/>
<line x1="528.5" y1="650.7" x2="528.5" y2="653.7" stroke="#ff0000" stroke-width="1"/>
<line x1="514" y1="639.5" x2="518" y2="639.5" stroke="#ff0000" stroke-width="1"/>
<line x1="539" y1="639.5" x2="543" y2="639.5" stroke="#ff0000" stroke-width="1"/>
<circle cx="528.4" cy="780" r="14.6" stroke="#ffffff" stroke-width="1" fill="none"/>
<circle cx="528.4" cy="780" r="10.6" stroke="#ffffff" stroke-width="1" fill="none"/>
<circle cx="528.4" cy="780" r="8" stroke="#ffffff" stroke-width="1" fill="none"/>
<line x1="502.8" y1="780.5" x2="550.6" y2="780.5" stroke="#ffffff" stroke-width="1"/>
<line x1="528.5" y1="755.5" x2="528.5" y2="809" stroke="#ffffff" stroke-width="1"/>
<line x1="520.4" y1="780.5" x2="536.4" y2="780.5" stroke="#ffffff" stroke-width="1"/>
<line x1="521.47" y1="776" x2="535.33" y2="784" stroke="#ffffff" stroke-width="1"/>
<line x1="524.4" y1="773.07" x2="532.4" y2="786.93" stroke="#ffffff" stroke-width="1"/>
<line x1="528.5" y1="772" x2="528.5" y2="788" stroke="#ffffff" stroke-width="1"/>
<line x1="532.4" y1="773.07" x2="524.4" y2="786.93" stroke="#ffffff" stroke-width="1"/>
<line x1="535.33" y1="776" x2="521.47" y2="784" stroke="#ffffff" stroke-width="1"/>
<line x1="522.4" y1="780.5" x2="534.4" y2="780.5" stroke="#ff0000" stroke-width="1"/>
<line x1="528.5" y1="774" x2="528.5" y2="786" stroke="#ff0000" stroke-width="1"/>
<line x1="528.5" y1="766" x2="528.5" y2="769" stroke="#ff0000" stroke-width="1"/>
<line x1="528.5" y1="791" x2="528.5" y2="794" stroke="#ff0000" stroke-width="1"/>
<line x1="514" y1="780.5" x2="518" y2="780.5" stroke="#ff0000" stroke-width="1"/>
<line x1="539" y1="780.5" x2="543" y2="780.5" stroke="#ff0000" stroke-width="1"/>
<rect x="574.5" y="631.5" width="8" height="157" rx="0" stroke="#ffffff" stroke-width="1" fill="none"/>
<line x1="564.5" y1="643.5" x2="601" y2="643.5" stroke="#ffffff" stroke-width="1"/>
<line x1="558" y1="650.5" x2="600" y2="650.5" stroke="#ffffff" stroke-width="1"/>
<text transform="translate(600 641) scale(0.75 1)" font-size="8.5" fill="#ffffff" text-anchor="middle" font-weight="bold" font-family='"Liberation Serif", "Noto Serif CJK SC", serif'>4</text>
<rect x="567.5" y="642.5" width="3.5" height="2" rx="0" stroke="#ffffff" stroke-width="0.5" fill="#ffffff"/>
<rect x="586.5" y="642.5" width="3.5" height="2" rx="0" stroke="#ffffff" stroke-width="0.5" fill="#ffffff"/>
<line x1="558.7" y1="682.5" x2="604.8" y2="682.5" stroke="#ffffff" stroke-width="1"/>
<text transform="translate(560.7 680) scale(0.75 1)" font-size="8.5" fill="#ffffff" text-anchor="middle" font-weight="bold" font-family='"Liberation Serif", "Noto Serif CJK SC", serif'>7</text>
<rect x="576" y="681.6" width="3.5" height="2" rx="0" stroke="#ffffff" stroke-width="0.5" fill="#ffffff"/>
<rect x="599.5" y="681.6" width="3.5" height="2" rx="0" stroke="#ffffff" stroke-width="0.5" fill="#ffffff"/>
<line x1="583.9" y1="699.5" x2="626.3" y2="699.5" stroke="#ffffff" stroke-width="1"/>
<text transform="translate(620.5 697.5) scale(0.75 1)" font-size="8.5" fill="#ffffff" text-anchor="middle" font-weight="bold" font-family='"Liberation Serif", "Noto Serif CJK SC", serif'>5.5</text>
<rect x="588.5" y="698.5" width="3.5" height="2" rx="0" stroke="#ffffff" stroke-width="0.5" fill="#ffffff"/>
<rect x="609" y="698.5" width="3.5" height="2" rx="0" stroke="#ffffff" stroke-width="0.5" fill="#ffffff"/>
<line x1="556.9" y1="769.5" x2="599" y2="769.5" stroke="#ffffff" stroke-width="1"/>
<rect x="595.5" y="665.5" width="13" height="89" rx="0" stroke="#ffffff" stroke-width="1" fill="none"/>
<line x1="604.5" y1="665" x2="604.5" y2="754.6" stroke="#ffffff" stroke-width="1"/>
<rect x="720.5" y="665.5" width="14" height="89" rx="0" stroke="#ffffff" stroke-width="1" fill="none"/>
<line x1="724.5" y1="665" x2="724.5" y2="754.6" stroke="#ffffff" stroke-width="1"/>
<line x1="608.6" y1="671.5" x2="720.2" y2="671.5" stroke="#ffffff" stroke-width="1"/>
<line x1="608.6" y1="677.5" x2="720.2" y2="677.5" stroke="#ffffff" stroke-width="1"/>
<line x1="608.6" y1="679.5" x2="720.2" y2="679.5" stroke="#ffffff" stroke-width="1"/>
<line x1="608.6" y1="740.5" x2="720.2" y2="740.5" stroke="#ffffff" stroke-width="1"/>
<line x1="608.6" y1="743.5" x2="720.2" y2="743.5" stroke="#ffffff" stroke-width="1"/>
<line x1="608.6" y1="748.5" x2="720.2" y2="748.5" stroke="#ffffff" stroke-width="1"/>
<line x1="587.2" y1="674.5" x2="610.6" y2="674.5" stroke="#ff0000" stroke-width="1"/>
<line x1="709" y1="674.5" x2="738.6" y2="674.5" stroke="#ff0000" stroke-width="1"/>
<line x1="587.2" y1="745.5" x2="610.6" y2="745.5" stroke="#ff0000" stroke-width="1"/>
<line x1="709" y1="745.5" x2="738.6" y2="745.5" stroke="#ff0000" stroke-width="1"/>
<rect x="734.5" y="669.5" width="4" height="10" rx="0" stroke="#ffffff" stroke-width="1" fill="none"/>
<line x1="734.3" y1="672.5" x2="738.6" y2="672.5" stroke="#ffffff" stroke-width="1"/>
<line x1="734.3" y1="676.5" x2="738.6" y2="676.5" stroke="#ffffff" stroke-width="1"/>
<line x1="582.6" y1="691.5" x2="595.2" y2="691.5" stroke="#ffffff" stroke-width="1"/>
<line x1="582.6" y1="728.5" x2="595.2" y2="728.5" stroke="#ffffff" stroke-width="1"/>
<line x1="608.5" y1="754.6" x2="608.5" y2="769" stroke="#ffffff" stroke-width="1"/>
<line x1="720.5" y1="754.6" x2="720.5" y2="769" stroke="#ffffff" stroke-width="1"/>
<line x1="608.6" y1="765.5" x2="720.2" y2="765.5" stroke="#ffffff" stroke-width="1"/>
<text transform="translate(664 763.5) scale(0.75 1)" font-size="8.5" fill="#ffffff" text-anchor="middle" font-weight="bold" font-family='"Liberation Serif", "Noto Serif CJK SC", serif'>45</text>
<rect x="611" y="764.2" width="4" height="2" rx="0" stroke="#ffffff" stroke-width="0.5" fill="#ffffff"/>
<rect x="713.5" y="764.2" width="4" height="2" rx="0" stroke="#ffffff" stroke-width="0.5" fill="#ffffff"/>
<line x1="750.5" y1="674.5" x2="750.5" y2="745.2" stroke="#ffffff" stroke-width="1"/>
<line x1="738.6" y1="674.5" x2="754" y2="674.5" stroke="#ffffff" stroke-width="1"/>
<line x1="738.6" y1="745.5" x2="754" y2="745.5" stroke="#ffffff" stroke-width="1"/>
<text transform="translate(748 710) rotate(-90) scale(0.75 1)" font-size="8" fill="#ffffff" text-anchor="middle" font-weight="bold" font-family='"Liberation Serif", "Noto Serif CJK SC", serif'>44±0.02</text>
<rect x="749" y="677" width="2" height="4" rx="0" stroke="#ffffff" stroke-width="0.5" fill="#ffffff"/>
<rect x="749" y="738.5" width="2" height="4" rx="0" stroke="#ffffff" stroke-width="0.5" fill="#ffffff"/>
<line x1="808.5" y1="597.5" x2="808.5" y2="838.5" stroke="#ffffff" stroke-width="1"/>
<text transform="translate(806.5 719) rotate(-90) scale(0.75 1)" font-size="8.5" fill="#ffffff" text-anchor="middle" font-weight="bold" font-family='"Liberation Serif", "Noto Serif CJK SC", serif'>141</text>
<rect x="807.5" y="599.5" width="2" height="4" rx="0" stroke="#ffffff" stroke-width="0.5" fill="#ffffff"/>
<rect x="807.5" y="832" width="2" height="4" rx="0" stroke="#ffffff" stroke-width="0.5" fill="#ffffff"/>
<path d="M698 597.5 Q704.5 597.5 704.5 604 L704.5 670.8" stroke="#ffffff" stroke-width="1" fill="none"/>
<path d="M704.5 749 L704.5 832 Q704.5 838.5 698 838.5" stroke="#ffffff" stroke-width="1" fill="none"/>
<line x1="704.5" y1="822" x2="704.5" y2="844" stroke="#ff00ff" stroke-width="1"/>
<path d="M754 597.5 Q760.5 597.5 760.5 604 L760.5 627.5 L733 627.5 A12 12 0 0 0 733 651.5 L760.5 651.5 L760.5 781.5 L733 781.5 A12 12 0 0 0 733 805.5 L760.5 805.5 L760.5 832 Q760.5 838.5 754 838.5" stroke="#ffffff" stroke-width="1" fill="none"/>
<path d="M760.5 618.5 L732.3 618.5 A20.3 21 0 0 0 732.3 660.5 L760.5 660.5" stroke="#ffffff" stroke-width="1" fill="none"/>
<line x1="732.5" y1="611.5" x2="732.5" y2="665.5" stroke="#ffffff" stroke-width="1"/>
<line x1="707" y1="639.5" x2="760.5" y2="639.5" stroke="#ffffff" stroke-width="1" stroke-dasharray="24 3 4 3"/>
<path d="M760.5 772.5 L732.3 772.5 A20.3 21 0 0 0 732.3 814.5 L760.5 814.5" stroke="#ffffff" stroke-width="1" fill="none"/>
<line x1="732.5" y1="765.5" x2="732.5" y2="819.5" stroke="#ffffff" stroke-width="1"/>
<line x1="707" y1="793.5" x2="760.5" y2="793.5" stroke="#ffffff" stroke-width="1" stroke-dasharray="24 3 4 3"/>
<line x1="448" y1="525.5" x2="464.4" y2="525.5" stroke="#ffffff" stroke-width="1"/>
<line x1="464.4" y1="525.3" x2="559.4" y2="620.3" stroke="#ffffff" stroke-width="1"/>
<text transform="translate(456 524) scale(0.7 1)" font-size="12" fill="#ffffff" text-anchor="middle" font-weight="bold" font-family='"Liberation Serif", "Noto Serif CJK SC", serif'>2</text>
<rect x="558.6" y="619.5" width="1.6" height="1.6" rx="0" stroke="#ffffff" stroke-width="1" fill="#ffffff"/>
<line x1="619.3" y1="525.5" x2="635.6" y2="525.5" stroke="#ffffff" stroke-width="1"/>
<line x1="635.6" y1="525.3" x2="664.2" y2="698.5" stroke="#ffffff" stroke-width="1"/>
<text transform="translate(627.5 524) scale(0.7 1)" font-size="12" fill="#ffffff" text-anchor="middle" font-weight="bold" font-family='"Liberation Serif", "Noto Serif CJK SC", serif'>3</text>
<rect x="663.4" y="697.7" width="1.6" height="1.6" rx="0" stroke="#ffffff" stroke-width="1" fill="#ffffff"/>
<line x1="21.5" y1="10.5" x2="1352" y2="10.5" stroke="#ffffff" stroke-width="1"/>
<line x1="21.5" y1="10.5" x2="21.5" y2="844" stroke="#ffffff" stroke-width="1"/>
<line x1="706.5" y1="0" x2="706.5" y2="18" stroke="#ffffff" stroke-width="1"/>
<line x1="0" y1="484.5" x2="30" y2="484.5" stroke="#ffffff" stroke-width="1"/>
<line x1="96" y1="30.5" x2="113.5" y2="30.5" stroke="#ffffff" stroke-width="1"/>
<line x1="113.5" y1="30.5" x2="228.5" y2="114" stroke="#ffffff" stroke-width="1"/>
<text transform="translate(105 29) scale(0.7 1)" font-size="12" fill="#ffffff" text-anchor="middle" font-weight="bold" font-family='"Liberation Serif", "Noto Serif CJK SC", serif'>8</text>
<line x1="180" y1="30.5" x2="198" y2="30.5" stroke="#ffffff" stroke-width="1"/>
<line x1="198" y1="30.5" x2="258" y2="115" stroke="#ffffff" stroke-width="1"/>
<text transform="translate(189.5 29) scale(0.7 1)" font-size="12" fill="#ffffff" text-anchor="middle" font-weight="bold" font-family='"Liberation Serif", "Noto Serif CJK SC", serif'>7</text>
<line x1="229" y1="30.5" x2="248" y2="30.5" stroke="#ffffff" stroke-width="1"/>
<line x1="248" y1="30.5" x2="306" y2="115" stroke="#ffffff" stroke-width="1"/>
<text transform="translate(238.5 29) scale(0.7 1)" font-size="12" fill="#ffffff" text-anchor="middle" font-weight="bold" font-family='"Liberation Serif", "Noto Serif CJK SC", serif'>6</text>
<line x1="309" y1="30.5" x2="327" y2="30.5" stroke="#ffffff" stroke-width="1"/>
<line x1="327" y1="30.5" x2="357" y2="86" stroke="#ffffff" stroke-width="1"/>
<text transform="translate(318 29) scale(0.7 1)" font-size="12" fill="#ffffff" text-anchor="middle" font-weight="bold" font-family='"Liberation Serif", "Noto Serif CJK SC", serif'>5</text>
<rect x="227.5" y="113" width="2" height="2" rx="0" stroke="#ffffff" stroke-width="1" fill="#ffffff"/>
<rect x="257" y="114" width="2" height="2" rx="0" stroke="#ffffff" stroke-width="1" fill="#ffffff"/>
<rect x="305" y="114" width="2" height="2" rx="0" stroke="#ffffff" stroke-width="1" fill="#ffffff"/>
<line x1="519" y1="30.5" x2="537" y2="30.5" stroke="#ffffff" stroke-width="1"/>
<line x1="519" y1="30.5" x2="414.6" y2="78.4" stroke="#ffffff" stroke-width="1"/>
<text transform="translate(528 29) scale(0.7 1)" font-size="12" fill="#ffffff" text-anchor="middle" font-weight="bold" font-family='"Liberation Serif", "Noto Serif CJK SC", serif'>4</text>
<line x1="26" y1="233.5" x2="45" y2="233.5" stroke="#ffffff" stroke-width="1"/>
<line x1="45" y1="233.5" x2="318" y2="175.7" stroke="#ffffff" stroke-width="1"/>
<text transform="translate(35 232) scale(0.7 1)" font-size="12" fill="#ffffff" text-anchor="middle" font-weight="bold" font-family='"Liberation Serif", "Noto Serif CJK SC", serif'>9</text>
<line x1="26" y1="282.5" x2="45" y2="282.5" stroke="#ffffff" stroke-width="1"/>
<line x1="45" y1="282.5" x2="322" y2="191" stroke="#ffffff" stroke-width="1"/>
<text transform="translate(35 281) scale(0.7 1)" font-size="12" fill="#ffffff" text-anchor="middle" font-weight="bold" font-family='"Liberation Serif", "Noto Serif CJK SC", serif'>10</text>
<line x1="26" y1="341.5" x2="45" y2="341.5" stroke="#ffffff" stroke-width="1"/>
<line x1="45" y1="341.5" x2="288.3" y2="219" stroke="#ffffff" stroke-width="1"/>
<text transform="translate(35 340) scale(0.7 1)" font-size="12" fill="#ffffff" text-anchor="middle" font-weight="bold" font-family='"Liberation Serif", "Noto Serif CJK SC", serif'>11</text>
<line x1="250" y1="482.5" x2="268" y2="482.5" stroke="#ffffff" stroke-width="1"/>
<line x1="268" y1="482.5" x2="320.2" y2="279.6" stroke="#ffffff" stroke-width="1"/>
<text transform="translate(259 481) scale(0.7 1)" font-size="12" fill="#ffffff" text-anchor="middle" font-weight="bold" font-family='"Liberation Serif", "Noto Serif CJK SC", serif'>12</text>
<line x1="534" y1="376.9" x2="549.9" y2="482.3" stroke="#ffffff" stroke-width="1"/>
<polyline points="549.9,482.5 568,482.5 571.5,486.5 575,482.5 593.7,482.5" stroke="#ffffff" stroke-width="1" fill="none"/>
<text transform="translate(558.5 481) scale(0.7 1)" font-size="12" fill="#ffffff" text-anchor="middle" font-weight="bold" font-family='"Liberation Serif", "Noto Serif CJK SC", serif'>13</text>
<text transform="translate(584.5 481) scale(0.7 1)" font-size="12" fill="#ffffff" text-anchor="middle" font-weight="bold" font-family='"Liberation Serif", "Noto Serif CJK SC", serif'>14</text>
<line x1="590.5" y1="205.3" x2="636.5" y2="151.5" stroke="#ffffff" stroke-width="1"/>
<polyline points="636.5,151.5 655,151.5 658.5,155.5 662,151.5 680,151.5 683.5,155.5 687,151.5 706,151.5" stroke="#ffffff" stroke-width="1" fill="none"/>
<text transform="translate(645.5 150) scale(0.7 1)" font-size="12" fill="#ffffff" text-anchor="middle" font-weight="bold" font-family='"Liberation Serif", "Noto Serif CJK SC", serif'>15</text>
<text transform="translate(671 150) scale(0.7 1)" font-size="12" fill="#ffffff" text-anchor="middle" font-weight="bold" font-family='"Liberation Serif", "Noto Serif CJK SC", serif'>16</text>
<text transform="translate(696.5 150) scale(0.7 1)" font-size="12" fill="#ffffff" text-anchor="middle" font-weight="bold" font-family='"Liberation Serif", "Noto Serif CJK SC", serif'>17</text>
<polyline points="445,200.5 463,200.5 466.5,204.5 470,200.5 488.5,200.5 488.5,270" stroke="#ffffff" stroke-width="1" fill="none"/>
<text transform="translate(454 199) scale(0.7 1)" font-size="12" fill="#ffffff" text-anchor="middle" font-weight="bold" font-family='"Liberation Serif", "Noto Serif CJK SC", serif'>19</text>
<text transform="translate(479 199) scale(0.7 1)" font-size="12" fill="#ffffff" text-anchor="middle" font-weight="bold" font-family='"Liberation Serif", "Noto Serif CJK SC", serif'>18</text>
<line x1="449" y1="188.5" x2="492" y2="188.5" stroke="#ffffff" stroke-width="1"/>
<text transform="translate(471 186) scale(0.7 1)" font-size="8" fill="#ffffff" text-anchor="middle" font-weight="bold" font-family='"Liberation Serif", "Noto Serif CJK SC", serif'>4</text>
<line x1="83" y1="101.5" x2="208" y2="101.5" stroke="#ff00ff" stroke-width="1"/>
<line x1="85.5" y1="101" x2="85.5" y2="441.5" stroke="#ff00ff" stroke-width="1"/>
<line x1="102" y1="161.5" x2="278.7" y2="161.5" stroke="#ff00ff" stroke-width="1"/>
<line x1="104.5" y1="161" x2="104.5" y2="386" stroke="#ff00ff" stroke-width="1"/>
<line x1="101.7" y1="386.5" x2="309.4" y2="386.5" stroke="#ff00ff" stroke-width="1"/>
<line x1="83" y1="441.5" x2="341.5" y2="441.5" stroke="#ff00ff" stroke-width="1"/>
<line x1="206.2" y1="449.5" x2="658.2" y2="449.5" stroke="#ff00ff" stroke-width="1"/>
<line x1="206.5" y1="441.5" x2="206.5" y2="452" stroke="#ff00ff" stroke-width="1"/>
<line x1="658.5" y1="442" x2="658.5" y2="451.5" stroke="#ff00ff" stroke-width="1"/>
<line x1="103.7" y1="458.5" x2="760.8" y2="458.5" stroke="#ff00ff" stroke-width="1"/>
<line x1="103.5" y1="441.5" x2="103.5" y2="461" stroke="#ff00ff" stroke-width="1"/>
<line x1="760.5" y1="442" x2="760.5" y2="461" stroke="#ff00ff" stroke-width="1"/>
<line x1="245" y1="270.5" x2="292.1" y2="270.5" stroke="#ff00ff" stroke-width="1"/>
<line x1="248.5" y1="270.5" x2="248.5" y2="441.5" stroke="#ff00ff" stroke-width="1"/>
<line x1="411.2" y1="78.5" x2="787.5" y2="78.5" stroke="#ff00ff" stroke-width="1"/>
<line x1="785.5" y1="78.5" x2="785.5" y2="442.7" stroke="#ff00ff" stroke-width="1"/>
<line x1="760.8" y1="442.5" x2="788" y2="442.5" stroke="#ff00ff" stroke-width="1"/>
<line x1="257.5" y1="202" x2="257.5" y2="260.8" stroke="#ff00ff" stroke-width="1"/>
<line x1="255" y1="210.5" x2="271" y2="210.5" stroke="#ff00ff" stroke-width="1"/>
<line x1="255" y1="221.5" x2="271" y2="221.5" stroke="#ff00ff" stroke-width="1"/>
<line x1="339.5" y1="189" x2="339.5" y2="441.5" stroke="#ff00ff" stroke-width="1"/>
<line x1="359.5" y1="182" x2="359.5" y2="230.5" stroke="#ff00ff" stroke-width="1"/>
<rect x="353.4" y="204" width="4.2" height="17.5" rx="0" stroke="#ff00ff" stroke-width="0.5" fill="#ff00ff"/>
<rect x="324.2" y="258" width="4.4" height="19.7" rx="0" stroke="#ff00ff" stroke-width="0.5" fill="#ff00ff"/>
<rect x="333.2" y="299.6" width="4.6" height="28.9" rx="0" stroke="#ff00ff" stroke-width="0.5" fill="#ff00ff"/>
<rect x="428.8" y="452.5" width="9.2" height="4.8" rx="0" stroke="#ff00ff" stroke-width="0.5" fill="#ff00ff"/>
<line x1="362" y1="63.5" x2="398" y2="63.5" stroke="#ff00ff" stroke-width="1"/>
<line x1="393.5" y1="61" x2="393.5" y2="77" stroke="#ff00ff" stroke-width="1"/>
<rect x="369.5" y="56.7" width="6.5" height="3.5" rx="0" stroke="#ff00ff" stroke-width="0.5" fill="#ff00ff"/>
<line x1="377" y1="59" x2="385" y2="59" stroke="#ff00ff" stroke-width="1.4"/>
<line x1="395.3" y1="115.5" x2="426.5" y2="115.5" stroke="#ff00ff" stroke-width="1"/>
<line x1="379.5" y1="130" x2="379.5" y2="157.2" stroke="#ff00ff" stroke-width="1"/>
<line x1="385.5" y1="124.6" x2="385.5" y2="149.2" stroke="#ff00ff" stroke-width="1"/>
<line x1="385.3" y1="147.5" x2="398" y2="147.5" stroke="#ff00ff" stroke-width="1"/>
<line x1="379.5" y1="155.5" x2="401" y2="155.5" stroke="#ff00ff" stroke-width="1"/>
<text transform="translate(397 113.6) scale(1.3 1)" font-size="5.2" fill="#ff00ff" text-anchor="start" font-weight="normal" font-family='"Liberation Sans", "Noto Sans CJK SC", sans-serif'>15±0.02</text>
<text transform="translate(390 146.3) scale(1.05 1)" font-size="5.2" fill="#ff00ff" text-anchor="start" font-weight="normal" font-family='"Liberation Sans", "Noto Sans CJK SC", sans-serif'>2-Φ10H7/h5</text>
<text transform="translate(384.6 154.8) scale(1.05 1)" font-size="5.2" fill="#ff00ff" text-anchor="start" font-weight="normal" font-family='"Liberation Sans", "Noto Sans CJK SC", sans-serif'>2-Φ16H7/j7</text>
<text transform="translate(83 273.3) rotate(-90)" font-size="5.5" fill="#ff00ff" text-anchor="middle" font-weight="bold" font-family='"Liberation Sans", "Noto Sans CJK SC", sans-serif'>191</text>
<text transform="translate(101.2 275) rotate(-90)" font-size="5.5" fill="#ff00ff" text-anchor="middle" font-weight="bold" font-family='"Liberation Sans", "Noto Sans CJK SC", sans-serif'>131.5</text>
<text transform="translate(246.5 357) rotate(-90)" font-size="5.5" fill="#ff00ff" text-anchor="middle" font-weight="bold" font-family='"Liberation Sans", "Noto Sans CJK SC", sans-serif'>100</text>
<text transform="translate(257 246) rotate(-90)" font-size="5" fill="#ff00ff" text-anchor="middle" font-weight="bold" font-family='"Liberation Sans", "Noto Sans CJK SC", sans-serif'>Φ6H7/h6</text>
<text transform="translate(431.5 448.5)" font-size="4.5" fill="#ff00ff" text-anchor="middle" font-weight="normal" font-family='"Liberation Sans", "Noto Sans CJK SC", sans-serif'>264</text>
<text transform="translate(783.5 261.5) rotate(-90)" font-size="5.5" fill="#ff00ff" text-anchor="middle" font-weight="bold" font-family='"Liberation Sans", "Noto Sans CJK SC", sans-serif'>203.5</text>
<text transform="translate(358.5 227) rotate(-90)" font-size="4" fill="#ff00ff" text-anchor="middle" font-weight="bold" font-family='"Liberation Sans", "Noto Sans CJK SC", sans-serif'>Φ</text>
<text transform="translate(327.8 282) rotate(-90)" font-size="4" fill="#ff00ff" text-anchor="middle" font-weight="bold" font-family='"Liberation Sans", "Noto Sans CJK SC", sans-serif'>Φ</text>
</g>
</svg>
</body></html>
